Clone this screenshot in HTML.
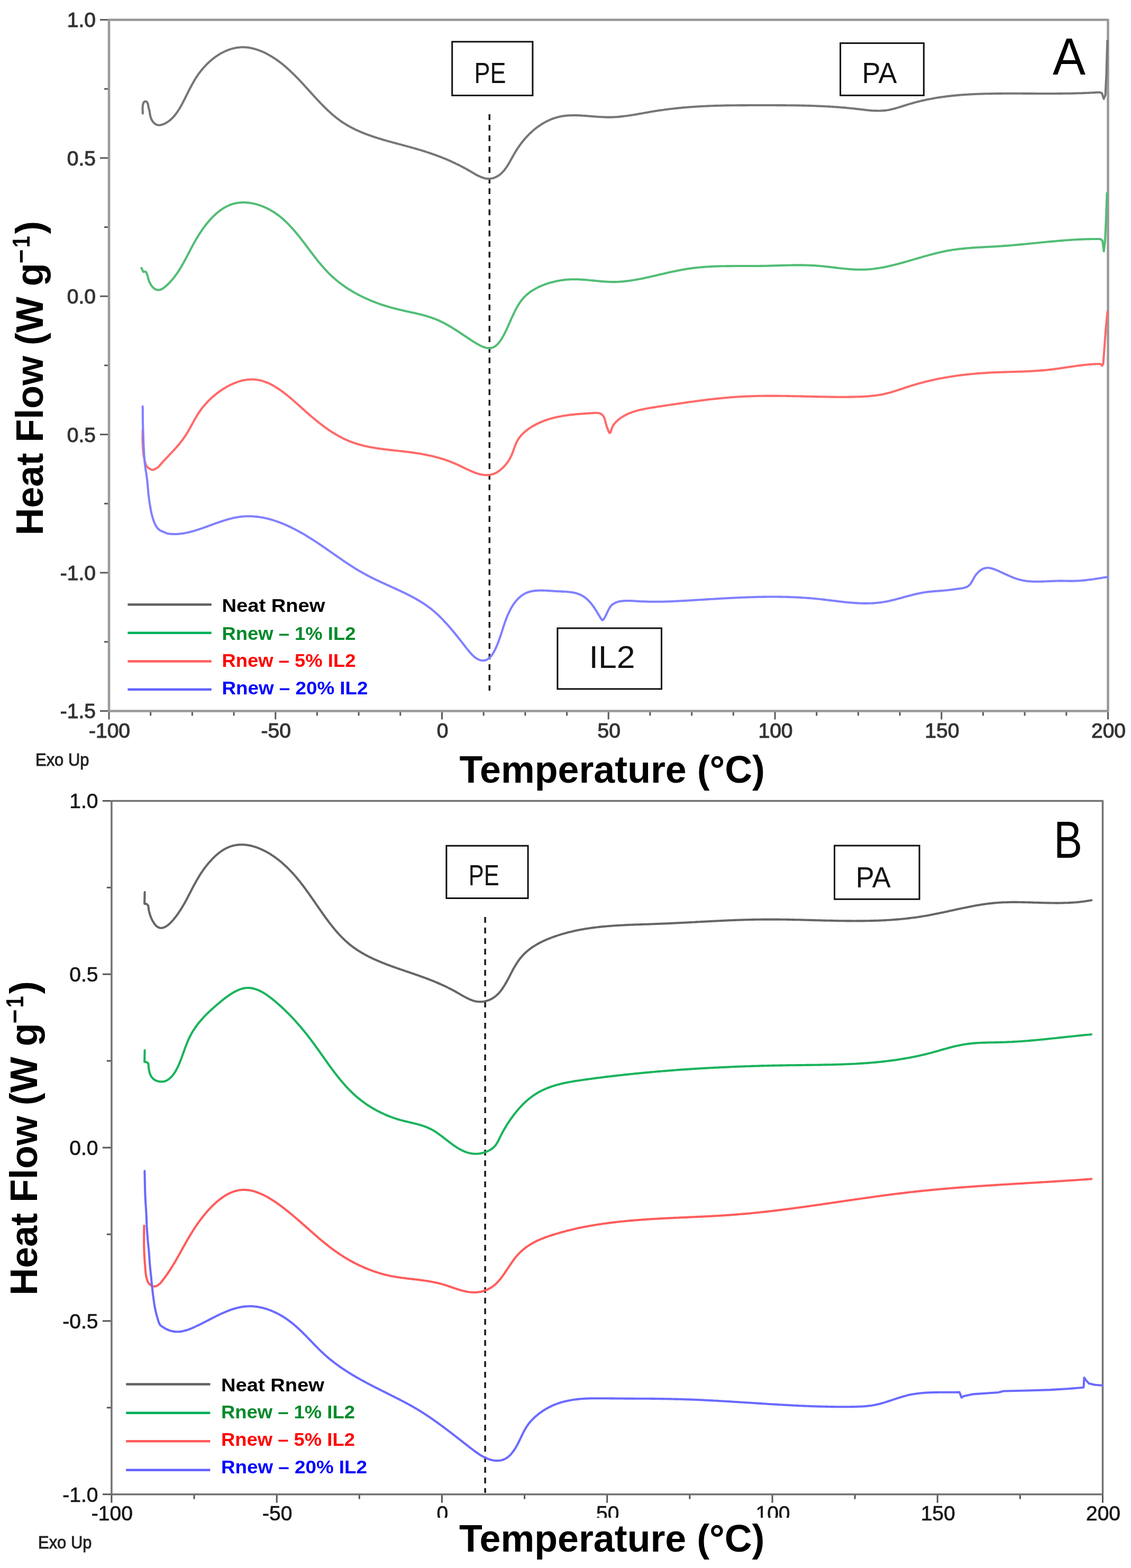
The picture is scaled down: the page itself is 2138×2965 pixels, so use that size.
<!DOCTYPE html>
<html><head><meta charset="utf-8"><title>DSC Heat Flow</title><style>html,body{margin:0;padding:0;background:#fff;}body{width:2138px;height:2965px;overflow:hidden;}</style></head><body>
<svg width="2138" height="2965" viewBox="0 0 2138 2965" style="display:block">
<rect x="0" y="0" width="2138" height="2965" fill="#ffffff"/>
<line x1="189.0" y1="37.4" x2="206.0" y2="37.4" stroke="#5a5a5a" stroke-width="3"/>
<line x1="197.0" y1="168.1" x2="206.0" y2="168.1" stroke="#5a5a5a" stroke-width="3"/>
<line x1="189.0" y1="298.8" x2="206.0" y2="298.8" stroke="#5a5a5a" stroke-width="3"/>
<line x1="197.0" y1="429.5" x2="206.0" y2="429.5" stroke="#5a5a5a" stroke-width="3"/>
<line x1="189.0" y1="560.2" x2="206.0" y2="560.2" stroke="#5a5a5a" stroke-width="3"/>
<line x1="197.0" y1="690.9" x2="206.0" y2="690.9" stroke="#5a5a5a" stroke-width="3"/>
<line x1="189.0" y1="821.6" x2="206.0" y2="821.6" stroke="#5a5a5a" stroke-width="3"/>
<line x1="197.0" y1="952.3" x2="206.0" y2="952.3" stroke="#5a5a5a" stroke-width="3"/>
<line x1="189.0" y1="1083.0" x2="206.0" y2="1083.0" stroke="#5a5a5a" stroke-width="3"/>
<line x1="197.0" y1="1213.7" x2="206.0" y2="1213.7" stroke="#5a5a5a" stroke-width="3"/>
<line x1="189.0" y1="1344.4" x2="206.0" y2="1344.4" stroke="#5a5a5a" stroke-width="3"/>
<line x1="206.0" y1="1344.4" x2="206.0" y2="1360.4" stroke="#5a5a5a" stroke-width="3"/>
<line x1="284.7" y1="1344.4" x2="284.7" y2="1353.4" stroke="#5a5a5a" stroke-width="3"/>
<line x1="363.4" y1="1344.4" x2="363.4" y2="1353.4" stroke="#5a5a5a" stroke-width="3"/>
<line x1="442.1" y1="1344.4" x2="442.1" y2="1353.4" stroke="#5a5a5a" stroke-width="3"/>
<line x1="520.8" y1="1344.4" x2="520.8" y2="1360.4" stroke="#5a5a5a" stroke-width="3"/>
<line x1="599.4" y1="1344.4" x2="599.4" y2="1353.4" stroke="#5a5a5a" stroke-width="3"/>
<line x1="678.1" y1="1344.4" x2="678.1" y2="1353.4" stroke="#5a5a5a" stroke-width="3"/>
<line x1="756.8" y1="1344.4" x2="756.8" y2="1353.4" stroke="#5a5a5a" stroke-width="3"/>
<line x1="835.5" y1="1344.4" x2="835.5" y2="1360.4" stroke="#5a5a5a" stroke-width="3"/>
<line x1="914.2" y1="1344.4" x2="914.2" y2="1353.4" stroke="#5a5a5a" stroke-width="3"/>
<line x1="992.9" y1="1344.4" x2="992.9" y2="1353.4" stroke="#5a5a5a" stroke-width="3"/>
<line x1="1071.6" y1="1344.4" x2="1071.6" y2="1353.4" stroke="#5a5a5a" stroke-width="3"/>
<line x1="1150.2" y1="1344.4" x2="1150.2" y2="1360.4" stroke="#5a5a5a" stroke-width="3"/>
<line x1="1228.9" y1="1344.4" x2="1228.9" y2="1353.4" stroke="#5a5a5a" stroke-width="3"/>
<line x1="1307.6" y1="1344.4" x2="1307.6" y2="1353.4" stroke="#5a5a5a" stroke-width="3"/>
<line x1="1386.3" y1="1344.4" x2="1386.3" y2="1353.4" stroke="#5a5a5a" stroke-width="3"/>
<line x1="1465.0" y1="1344.4" x2="1465.0" y2="1360.4" stroke="#5a5a5a" stroke-width="3"/>
<line x1="1543.7" y1="1344.4" x2="1543.7" y2="1353.4" stroke="#5a5a5a" stroke-width="3"/>
<line x1="1622.4" y1="1344.4" x2="1622.4" y2="1353.4" stroke="#5a5a5a" stroke-width="3"/>
<line x1="1701.1" y1="1344.4" x2="1701.1" y2="1353.4" stroke="#5a5a5a" stroke-width="3"/>
<line x1="1779.8" y1="1344.4" x2="1779.8" y2="1360.4" stroke="#5a5a5a" stroke-width="3"/>
<line x1="1858.4" y1="1344.4" x2="1858.4" y2="1353.4" stroke="#5a5a5a" stroke-width="3"/>
<line x1="1937.1" y1="1344.4" x2="1937.1" y2="1353.4" stroke="#5a5a5a" stroke-width="3"/>
<line x1="2015.8" y1="1344.4" x2="2015.8" y2="1353.4" stroke="#5a5a5a" stroke-width="3"/>
<line x1="2094.5" y1="1344.4" x2="2094.5" y2="1360.4" stroke="#5a5a5a" stroke-width="3"/>
<path d="M206.0,37.4 L2094.5,37.4 L2094.5,1344.4 L206.0,1344.4 Z" fill="none" stroke="#999999" stroke-width="4.5" stroke-linejoin="round"/>
<text x="181.0" y="51.3" font-family="'Liberation Sans', Arial, Helvetica, sans-serif" font-size="39" fill="#333" stroke="#333" stroke-width="1.1" text-anchor="end">1.0</text>
<text x="181.0" y="312.7" font-family="'Liberation Sans', Arial, Helvetica, sans-serif" font-size="39" fill="#333" stroke="#333" stroke-width="1.1" text-anchor="end">0.5</text>
<text x="181.0" y="574.1" font-family="'Liberation Sans', Arial, Helvetica, sans-serif" font-size="39" fill="#333" stroke="#333" stroke-width="1.1" text-anchor="end">0.0</text>
<text x="181.0" y="835.5" font-family="'Liberation Sans', Arial, Helvetica, sans-serif" font-size="39" fill="#333" stroke="#333" stroke-width="1.1" text-anchor="end">0.5</text>
<text x="181.0" y="1096.9" font-family="'Liberation Sans', Arial, Helvetica, sans-serif" font-size="39" fill="#333" stroke="#333" stroke-width="1.1" text-anchor="end">-1.0</text>
<text x="181.0" y="1358.3" font-family="'Liberation Sans', Arial, Helvetica, sans-serif" font-size="39" fill="#333" stroke="#333" stroke-width="1.1" text-anchor="end">-1.5</text>
<text x="207.0" y="1395.0" font-family="'Liberation Sans', Arial, Helvetica, sans-serif" font-size="39" fill="#333" stroke="#333" stroke-width="1.1" text-anchor="middle">-100</text>
<text x="521.8" y="1395.0" font-family="'Liberation Sans', Arial, Helvetica, sans-serif" font-size="39" fill="#333" stroke="#333" stroke-width="1.1" text-anchor="middle">-50</text>
<text x="836.5" y="1395.0" font-family="'Liberation Sans', Arial, Helvetica, sans-serif" font-size="39" fill="#333" stroke="#333" stroke-width="1.1" text-anchor="middle">0</text>
<text x="1151.2" y="1395.0" font-family="'Liberation Sans', Arial, Helvetica, sans-serif" font-size="39" fill="#333" stroke="#333" stroke-width="1.1" text-anchor="middle">50</text>
<text x="1466.0" y="1395.0" font-family="'Liberation Sans', Arial, Helvetica, sans-serif" font-size="39" fill="#333" stroke="#333" stroke-width="1.1" text-anchor="middle">100</text>
<text x="1780.8" y="1395.0" font-family="'Liberation Sans', Arial, Helvetica, sans-serif" font-size="39" fill="#333" stroke="#333" stroke-width="1.1" text-anchor="middle">150</text>
<text x="2095.5" y="1395.0" font-family="'Liberation Sans', Arial, Helvetica, sans-serif" font-size="39" fill="#333" stroke="#333" stroke-width="1.1" text-anchor="middle">200</text>
<line x1="193.9" y1="1514.4" x2="210.9" y2="1514.4" stroke="#555555" stroke-width="3"/>
<line x1="201.9" y1="1678.3" x2="210.9" y2="1678.3" stroke="#555555" stroke-width="3"/>
<line x1="193.9" y1="1842.2" x2="210.9" y2="1842.2" stroke="#555555" stroke-width="3"/>
<line x1="201.9" y1="2006.1" x2="210.9" y2="2006.1" stroke="#555555" stroke-width="3"/>
<line x1="193.9" y1="2170.1" x2="210.9" y2="2170.1" stroke="#555555" stroke-width="3"/>
<line x1="201.9" y1="2334.0" x2="210.9" y2="2334.0" stroke="#555555" stroke-width="3"/>
<line x1="193.9" y1="2497.9" x2="210.9" y2="2497.9" stroke="#555555" stroke-width="3"/>
<line x1="201.9" y1="2661.8" x2="210.9" y2="2661.8" stroke="#555555" stroke-width="3"/>
<line x1="193.9" y1="2825.7" x2="210.9" y2="2825.7" stroke="#555555" stroke-width="3"/>
<line x1="210.9" y1="2825.7" x2="210.9" y2="2841.7" stroke="#555555" stroke-width="3"/>
<line x1="367.0" y1="2825.7" x2="367.0" y2="2834.7" stroke="#555555" stroke-width="3"/>
<line x1="523.2" y1="2825.7" x2="523.2" y2="2841.7" stroke="#555555" stroke-width="3"/>
<line x1="679.3" y1="2825.7" x2="679.3" y2="2834.7" stroke="#555555" stroke-width="3"/>
<line x1="835.4" y1="2825.7" x2="835.4" y2="2841.7" stroke="#555555" stroke-width="3"/>
<line x1="991.6" y1="2825.7" x2="991.6" y2="2834.7" stroke="#555555" stroke-width="3"/>
<line x1="1147.7" y1="2825.7" x2="1147.7" y2="2841.7" stroke="#555555" stroke-width="3"/>
<line x1="1303.8" y1="2825.7" x2="1303.8" y2="2834.7" stroke="#555555" stroke-width="3"/>
<line x1="1460.0" y1="2825.7" x2="1460.0" y2="2841.7" stroke="#555555" stroke-width="3"/>
<line x1="1616.1" y1="2825.7" x2="1616.1" y2="2834.7" stroke="#555555" stroke-width="3"/>
<line x1="1772.2" y1="2825.7" x2="1772.2" y2="2841.7" stroke="#555555" stroke-width="3"/>
<line x1="1928.4" y1="2825.7" x2="1928.4" y2="2834.7" stroke="#555555" stroke-width="3"/>
<line x1="2084.5" y1="2825.7" x2="2084.5" y2="2841.7" stroke="#555555" stroke-width="3"/>
<path d="M210.9,1514.4 L2084.5,1514.4 L2084.5,2825.7 L210.9,2825.7 Z" fill="none" stroke="#727272" stroke-width="3.5" stroke-linejoin="round"/>
<text x="185.5" y="1528.3" font-family="'Liberation Sans', Arial, Helvetica, sans-serif" font-size="39" fill="#161616" stroke="#161616" stroke-width="0.7" text-anchor="end">1.0</text>
<text x="185.5" y="1856.1" font-family="'Liberation Sans', Arial, Helvetica, sans-serif" font-size="39" fill="#161616" stroke="#161616" stroke-width="0.7" text-anchor="end">0.5</text>
<text x="185.5" y="2184.0" font-family="'Liberation Sans', Arial, Helvetica, sans-serif" font-size="39" fill="#161616" stroke="#161616" stroke-width="0.7" text-anchor="end">0.0</text>
<text x="185.5" y="2511.8" font-family="'Liberation Sans', Arial, Helvetica, sans-serif" font-size="39" fill="#161616" stroke="#161616" stroke-width="0.7" text-anchor="end">-0.5</text>
<text x="185.5" y="2839.6" font-family="'Liberation Sans', Arial, Helvetica, sans-serif" font-size="39" fill="#161616" stroke="#161616" stroke-width="0.7" text-anchor="end">-1.0</text>
<text x="211.9" y="2875.0" font-family="'Liberation Sans', Arial, Helvetica, sans-serif" font-size="39" fill="#161616" stroke="#161616" stroke-width="0.7" text-anchor="middle">-100</text>
<text x="524.2" y="2875.0" font-family="'Liberation Sans', Arial, Helvetica, sans-serif" font-size="39" fill="#161616" stroke="#161616" stroke-width="0.7" text-anchor="middle">-50</text>
<text x="836.4" y="2875.0" font-family="'Liberation Sans', Arial, Helvetica, sans-serif" font-size="39" fill="#161616" stroke="#161616" stroke-width="0.7" text-anchor="middle">0</text>
<text x="1148.7" y="2875.0" font-family="'Liberation Sans', Arial, Helvetica, sans-serif" font-size="39" fill="#161616" stroke="#161616" stroke-width="0.7" text-anchor="middle">50</text>
<text x="1461.0" y="2875.0" font-family="'Liberation Sans', Arial, Helvetica, sans-serif" font-size="39" fill="#161616" stroke="#161616" stroke-width="0.7" text-anchor="middle">100</text>
<text x="1773.2" y="2875.0" font-family="'Liberation Sans', Arial, Helvetica, sans-serif" font-size="39" fill="#161616" stroke="#161616" stroke-width="0.7" text-anchor="middle">150</text>
<text x="2085.5" y="2875.0" font-family="'Liberation Sans', Arial, Helvetica, sans-serif" font-size="39" fill="#161616" stroke="#161616" stroke-width="0.7" text-anchor="middle">200</text>
<rect x="700" y="2870" width="800" height="95" fill="#ffffff"/>
<text x="67.0" y="1447.5" font-family="'Liberation Sans', Arial, Helvetica, sans-serif" font-size="33" fill="#222" stroke="#222" stroke-width="0.9" textLength="101.5" lengthAdjust="spacingAndGlyphs">Exo Up</text>
<text x="868.5" y="1479.5" font-family="'Liberation Sans', Arial, Helvetica, sans-serif" font-weight="bold" font-size="73" fill="#000" textLength="577.5" lengthAdjust="spacingAndGlyphs">Temperature (°C)</text>
<g transform="translate(81.1,1012.3) rotate(-90)">
<text x="0" y="0" font-family="'Liberation Sans', Arial, Helvetica, sans-serif" font-weight="bold" font-size="73" fill="#000" textLength="515" lengthAdjust="spacingAndGlyphs">Heat Flow (W g</text>
<text x="514" y="-25.5" font-family="'Liberation Sans', Arial, Helvetica, sans-serif" font-weight="bold" font-size="47" fill="#000" textLength="27" lengthAdjust="spacingAndGlyphs">−</text>
<text x="544" y="-25.5" font-family="'Liberation Sans', Arial, Helvetica, sans-serif" font-weight="bold" font-size="47" fill="#000" textLength="22" lengthAdjust="spacingAndGlyphs">1</text>
<text x="570" y="0" font-family="'Liberation Sans', Arial, Helvetica, sans-serif" font-weight="bold" font-size="73" fill="#000">)</text>
</g>
<text x="72.0" y="2927.5" font-family="'Liberation Sans', Arial, Helvetica, sans-serif" font-size="33" fill="#222" stroke="#222" stroke-width="0.9" textLength="101.5" lengthAdjust="spacingAndGlyphs">Exo Up</text>
<text x="868.0" y="2933.6" font-family="'Liberation Sans', Arial, Helvetica, sans-serif" font-weight="bold" font-size="73" fill="#000" textLength="577.5" lengthAdjust="spacingAndGlyphs">Temperature (°C)</text>
<g transform="translate(69.6,2449.6) rotate(-90)">
<text x="0" y="0" font-family="'Liberation Sans', Arial, Helvetica, sans-serif" font-weight="bold" font-size="73" fill="#000" textLength="515" lengthAdjust="spacingAndGlyphs">Heat Flow (W g</text>
<text x="514" y="-25.5" font-family="'Liberation Sans', Arial, Helvetica, sans-serif" font-weight="bold" font-size="47" fill="#000" textLength="27" lengthAdjust="spacingAndGlyphs">−</text>
<text x="544" y="-25.5" font-family="'Liberation Sans', Arial, Helvetica, sans-serif" font-weight="bold" font-size="47" fill="#000" textLength="22" lengthAdjust="spacingAndGlyphs">1</text>
<text x="570" y="0" font-family="'Liberation Sans', Arial, Helvetica, sans-serif" font-weight="bold" font-size="73" fill="#000">)</text>
</g>
<text x="1990" y="140.7" font-family="'Liberation Sans', Arial, Helvetica, sans-serif" font-size="98" fill="#000" textLength="62" lengthAdjust="spacingAndGlyphs">A</text>
<text x="1992" y="1621.5" font-family="'Liberation Sans', Arial, Helvetica, sans-serif" font-size="98" fill="#000" textLength="54" lengthAdjust="spacingAndGlyphs">B</text>
<line x1="925.3" y1="216.0" x2="925.3" y2="1306.0" stroke="#1a1a1a" stroke-width="3.5" stroke-dasharray="11 9"/>
<line x1="917.1" y1="1734.0" x2="917.1" y2="2823.0" stroke="#1a1a1a" stroke-width="3.5" stroke-dasharray="11 9"/>
<rect x="854.7" y="78.9" width="152.2" height="101.6" fill="#fff" stroke="#111" stroke-width="3"/><text x="896.5" y="156.6" font-family="'Liberation Sans', Arial, Helvetica, sans-serif" font-size="55.0" fill="#111" textLength="60.0" lengthAdjust="spacingAndGlyphs">PE</text>
<rect x="1588.6" y="81.6" width="157.7" height="98.8" fill="#fff" stroke="#111" stroke-width="3"/><text x="1629.5" y="156.6" font-family="'Liberation Sans', Arial, Helvetica, sans-serif" font-size="55.0" fill="#111" textLength="66.0" lengthAdjust="spacingAndGlyphs">PA</text>
<rect x="1053.9" y="1187.9" width="196.6" height="114.9" fill="#fff" stroke="#111" stroke-width="3"/><text x="1113.5" y="1262.6" font-family="'Liberation Sans', Arial, Helvetica, sans-serif" font-size="59.0" fill="#111" textLength="87.0" lengthAdjust="spacingAndGlyphs">IL2</text>
<rect x="843.9" y="1599.3" width="154.2" height="99.2" fill="#fff" stroke="#111" stroke-width="3"/><text x="885.7" y="1674.4" font-family="'Liberation Sans', Arial, Helvetica, sans-serif" font-size="55.0" fill="#111" textLength="58.0" lengthAdjust="spacingAndGlyphs">PE</text>
<rect x="1577.5" y="1599.0" width="160.5" height="101.3" fill="#fff" stroke="#111" stroke-width="3"/><text x="1617.8" y="1677.8" font-family="'Liberation Sans', Arial, Helvetica, sans-serif" font-size="55.0" fill="#111" textLength="66.0" lengthAdjust="spacingAndGlyphs">PA</text>
<path d="M269.9,214.6 L269.8,213.3 L269.8,212.0 L269.7,210.8 L269.7,209.5 L269.6,208.2 L269.6,207.0 L269.6,205.9 L269.6,204.8 L269.6,203.7 L269.7,202.6 L269.7,201.6 L269.8,200.6 L269.9,199.9 L270.0,199.1 L270.1,198.4 L270.3,197.8 L270.4,197.1 L270.6,196.5 L270.8,196.0 L270.9,195.4 L271.1,194.9 L271.3,194.5 L271.5,194.0 L271.8,193.6 L272.0,193.3 L272.3,193.0 L272.6,192.7 L272.9,192.4 L273.2,192.2 L273.5,192.0 L273.8,191.9 L274.1,191.7 L274.4,191.7 L274.8,191.6 L275.1,191.6 L275.4,191.6 L275.7,191.7 L276.0,191.7 L276.3,191.9 L276.6,192.0 L276.9,192.2 L277.2,192.4 L277.5,192.7 L277.8,193.0 L278.0,193.3 L278.3,193.7 L278.5,194.1 L278.7,194.5 L278.9,195.0 L279.1,195.4 L279.3,195.9 L279.5,196.4 L279.6,197.0 L279.8,197.5 L280.0,198.1 L280.1,198.8 L280.2,199.5 L280.3,200.2 L280.4,201.0 L280.6,201.8 L280.9,203.2 L281.3,204.8 L281.7,206.5 L282.1,208.2 L282.6,209.9 L283.0,211.6 L283.0,211.6 L283.3,215.1 L283.9,218.4 L284.7,221.4 L285.7,224.2 L286.9,226.8 L288.3,229.1 L289.8,231.1 L291.4,232.8 L293.2,234.2 L295.0,235.3 L296.9,236.1 L298.9,236.5 L300.9,236.7 L303.0,236.5 L305.1,236.1 L307.1,235.5 L309.2,234.7 L311.2,233.9 L313.1,232.9 L315.0,231.8 L316.8,230.7 L318.6,229.4 L320.3,228.1 L322.0,226.8 L323.6,225.3 L325.2,223.8 L326.7,222.2 L328.3,220.6 L329.7,218.9 L331.2,217.1 L332.6,215.3 L333.9,213.4 L335.3,211.5 L336.6,209.5 L337.9,207.5 L339.2,205.5 L340.4,203.4 L341.6,201.3 L342.9,199.1 L344.1,196.9 L345.2,194.7 L346.4,192.4 L347.6,190.1 L348.8,187.8 L349.9,185.5 L351.1,183.2 L352.3,180.8 L353.5,178.4 L354.6,176.1 L355.8,173.7 L357.0,171.3 L358.2,168.9 L359.5,166.5 L360.7,164.2 L362.0,161.8 L363.3,159.4 L364.6,157.1 L365.9,154.7 L367.3,152.4 L368.6,150.1 L370.1,147.8 L371.5,145.5 L373.0,143.3 L374.5,141.1 L376.1,138.9 L377.7,136.8 L379.3,134.7 L381.0,132.6 L382.7,130.5 L384.4,128.5 L386.2,126.5 L388.0,124.6 L389.8,122.7 L391.6,120.8 L393.5,119.0 L395.4,117.3 L397.3,115.5 L399.3,113.8 L401.3,112.2 L403.3,110.6 L405.3,109.0 L407.3,107.5 L409.4,106.1 L411.5,104.7 L413.6,103.4 L415.7,102.1 L417.9,100.8 L420.0,99.7 L422.2,98.5 L424.4,97.5 L426.6,96.5 L428.9,95.5 L431.1,94.6 L433.3,93.8 L435.6,93.1 L437.9,92.4 L440.1,91.7 L442.4,91.2 L444.7,90.7 L447.0,90.3 L449.4,89.9 L451.7,89.7 L454.0,89.5 L456.3,89.3 L458.7,89.3 L461.0,89.3 L463.3,89.4 L465.7,89.6 L468.0,89.8 L470.3,90.1 L472.7,90.5 L475.0,91.0 L477.3,91.5 L479.7,92.0 L482.0,92.7 L484.3,93.4 L486.6,94.1 L488.9,94.9 L491.2,95.8 L493.5,96.7 L495.8,97.7 L498.1,98.7 L500.3,99.7 L502.6,100.8 L504.8,102.0 L507.0,103.2 L509.2,104.4 L511.4,105.7 L513.6,107.0 L515.8,108.3 L517.9,109.7 L520.0,111.1 L522.1,112.5 L524.2,114.0 L526.3,115.5 L528.3,117.0 L530.4,118.5 L532.4,120.1 L534.4,121.7 L536.3,123.3 L538.3,125.0 L540.2,126.6 L542.1,128.3 L544.0,130.0 L545.9,131.7 L547.8,133.4 L549.7,135.2 L551.5,136.9 L553.4,138.7 L555.2,140.5 L557.0,142.3 L558.8,144.1 L560.6,146.0 L562.4,147.8 L564.2,149.6 L566.0,151.5 L567.7,153.4 L569.5,155.2 L571.2,157.1 L573.0,159.0 L574.7,160.9 L576.4,162.8 L578.2,164.7 L579.9,166.6 L581.6,168.5 L583.4,170.4 L585.1,172.3 L586.8,174.2 L588.5,176.1 L590.2,178.0 L591.9,179.9 L593.7,181.8 L595.4,183.7 L597.1,185.5 L598.8,187.4 L600.6,189.3 L602.3,191.1 L604.0,192.9 L605.8,194.8 L607.5,196.6 L609.3,198.4 L611.1,200.2 L612.8,202.0 L614.6,203.7 L616.4,205.5 L618.2,207.2 L620.0,208.9 L621.8,210.6 L623.6,212.3 L625.5,214.0 L627.3,215.6 L629.2,217.2 L631.1,218.8 L633.0,220.4 L634.9,221.9 L636.8,223.5 L638.8,224.9 L640.7,226.4 L642.7,227.9 L644.7,229.3 L646.7,230.7 L648.7,232.0 L650.8,233.3 L652.8,234.6 L654.9,235.9 L657.0,237.1 L659.1,238.3 L661.2,239.5 L663.4,240.7 L665.5,241.8 L667.7,242.9 L669.9,244.0 L672.1,245.1 L674.3,246.1 L676.6,247.2 L678.8,248.2 L681.1,249.1 L683.4,250.1 L685.6,251.0 L687.9,252.0 L690.2,252.9 L692.6,253.8 L694.9,254.6 L697.2,255.5 L699.6,256.3 L701.9,257.1 L704.3,258.0 L706.7,258.7 L709.0,259.5 L711.4,260.3 L713.8,261.1 L716.2,261.8 L718.6,262.5 L721.0,263.3 L723.4,264.0 L725.9,264.7 L728.3,265.4 L730.7,266.1 L733.2,266.8 L735.6,267.5 L738.1,268.1 L740.5,268.8 L742.9,269.5 L745.4,270.1 L747.8,270.8 L750.3,271.5 L752.8,272.1 L755.2,272.8 L757.7,273.4 L760.1,274.1 L762.6,274.7 L765.0,275.4 L767.5,276.1 L769.9,276.7 L772.4,277.4 L774.8,278.1 L777.2,278.7 L779.7,279.4 L782.1,280.1 L784.5,280.8 L786.9,281.5 L789.4,282.2 L791.8,282.9 L794.2,283.6 L796.6,284.3 L799.0,285.1 L801.4,285.8 L803.7,286.6 L806.1,287.4 L808.5,288.1 L810.9,288.9 L813.2,289.7 L815.6,290.5 L818.0,291.4 L820.3,292.2 L822.7,293.0 L825.0,293.9 L827.3,294.8 L829.7,295.6 L832.0,296.5 L834.3,297.4 L836.7,298.4 L839.0,299.3 L841.3,300.2 L843.6,301.2 L845.9,302.2 L848.2,303.2 L850.5,304.2 L852.8,305.2 L855.1,306.3 L857.4,307.3 L859.7,308.4 L861.9,309.5 L864.2,310.6 L866.5,311.7 L868.8,312.8 L871.0,314.0 L873.3,315.2 L875.6,316.4 L877.8,317.6 L880.1,318.8 L882.3,320.1 L884.6,321.4 L886.8,322.6 L889.1,324.0 L891.3,325.3 L893.5,326.6 L895.8,327.9 L898.0,329.2 L900.2,330.4 L902.5,331.6 L904.7,332.7 L906.9,333.7 L909.1,334.7 L911.4,335.5 L913.6,336.3 L915.8,336.9 L918.0,337.4 L920.2,337.8 L922.4,337.9 L924.6,338.0 L926.8,337.8 L929.0,337.5 L931.2,337.0 L933.4,336.4 L935.5,335.6 L937.6,334.7 L939.6,333.7 L941.6,332.5 L943.5,331.2 L945.4,329.8 L947.2,328.2 L948.9,326.6 L950.6,324.9 L952.2,323.1 L953.7,321.2 L955.2,319.2 L956.7,317.2 L958.1,315.1 L959.5,313.0 L960.9,310.8 L962.2,308.5 L963.5,306.3 L964.8,304.0 L966.1,301.7 L967.4,299.3 L968.7,297.0 L970.0,294.7 L971.3,292.3 L972.7,290.0 L974.0,287.7 L975.4,285.4 L976.8,283.1 L978.3,280.9 L979.8,278.7 L981.3,276.5 L982.8,274.4 L984.4,272.3 L985.9,270.2 L987.5,268.1 L989.2,266.1 L990.8,264.1 L992.5,262.1 L994.2,260.2 L996.0,258.3 L997.7,256.4 L999.5,254.6 L1001.3,252.8 L1003.1,251.1 L1005.0,249.4 L1006.8,247.7 L1008.7,246.0 L1010.6,244.4 L1012.6,242.9 L1014.5,241.4 L1016.5,239.9 L1018.5,238.5 L1020.5,237.1 L1022.6,235.7 L1024.6,234.4 L1026.7,233.2 L1028.8,232.0 L1030.9,230.8 L1033.0,229.7 L1035.1,228.6 L1037.3,227.6 L1039.5,226.6 L1041.7,225.7 L1043.9,224.8 L1046.1,224.0 L1048.3,223.3 L1050.6,222.6 L1052.8,221.9 L1055.1,221.3 L1057.4,220.7 L1059.7,220.3 L1062.0,219.8 L1064.3,219.4 L1066.7,219.1 L1069.0,218.8 L1071.4,218.6 L1073.8,218.4 L1076.2,218.3 L1078.6,218.2 L1081.0,218.1 L1083.4,218.0 L1085.8,218.0 L1088.3,218.1 L1090.7,218.1 L1093.1,218.2 L1095.6,218.3 L1098.1,218.4 L1100.5,218.6 L1103.0,218.7 L1105.5,218.9 L1108.0,219.1 L1110.5,219.3 L1113.0,219.5 L1115.5,219.7 L1118.0,219.9 L1120.5,220.1 L1123.1,220.3 L1125.6,220.5 L1128.1,220.7 L1130.6,220.9 L1133.2,221.0 L1135.7,221.2 L1138.3,221.3 L1140.8,221.4 L1143.3,221.5 L1145.9,221.6 L1148.4,221.6 L1150.9,221.6 L1153.5,221.6 L1156.0,221.6 L1158.6,221.5 L1161.1,221.4 L1163.6,221.2 L1166.2,221.1 L1168.7,220.9 L1171.2,220.6 L1173.8,220.4 L1176.3,220.1 L1178.9,219.8 L1181.4,219.5 L1183.9,219.2 L1186.4,218.8 L1189.0,218.5 L1191.5,218.1 L1194.0,217.7 L1196.6,217.3 L1199.1,216.9 L1201.6,216.4 L1204.1,216.0 L1206.7,215.6 L1209.2,215.1 L1211.7,214.7 L1214.2,214.2 L1216.8,213.8 L1219.3,213.3 L1221.8,212.9 L1224.3,212.4 L1226.9,212.0 L1229.4,211.6 L1231.9,211.1 L1234.4,210.7 L1236.9,210.3 L1239.5,209.9 L1242.0,209.5 L1244.5,209.1 L1247.0,208.7 L1249.5,208.4 L1252.0,208.0 L1254.6,207.7 L1257.1,207.3 L1259.6,207.0 L1262.1,206.7 L1264.6,206.3 L1267.1,206.0 L1269.6,205.7 L1272.2,205.5 L1274.7,205.2 L1277.2,204.9 L1279.7,204.6 L1282.2,204.4 L1284.7,204.1 L1287.2,203.9 L1289.7,203.6 L1292.2,203.4 L1294.7,203.2 L1297.2,203.0 L1299.8,202.8 L1302.3,202.6 L1304.8,202.4 L1307.3,202.2 L1309.8,202.0 L1312.3,201.9 L1314.8,201.7 L1317.3,201.5 L1319.8,201.4 L1322.3,201.2 L1324.8,201.1 L1327.3,201.0 L1329.8,200.8 L1332.3,200.7 L1334.8,200.6 L1337.3,200.5 L1339.8,200.4 L1342.3,200.3 L1344.8,200.2 L1347.3,200.1 L1349.8,200.0 L1352.3,199.9 L1354.8,199.9 L1357.3,199.8 L1359.8,199.7 L1362.3,199.7 L1364.8,199.6 L1367.3,199.5 L1369.8,199.5 L1372.3,199.4 L1374.8,199.4 L1377.3,199.4 L1379.8,199.3 L1382.3,199.3 L1384.8,199.2 L1387.3,199.2 L1389.8,199.2 L1392.2,199.2 L1394.7,199.1 L1397.2,199.1 L1399.7,199.1 L1402.2,199.1 L1404.7,199.1 L1407.2,199.1 L1409.7,199.1 L1412.2,199.1 L1414.7,199.0 L1417.2,199.0 L1419.7,199.0 L1422.2,199.0 L1424.7,199.0 L1427.1,199.0 L1429.6,199.0 L1432.1,199.0 L1434.6,199.0 L1437.1,199.0 L1439.6,199.0 L1442.1,199.0 L1444.6,199.0 L1447.1,199.0 L1449.6,199.0 L1452.0,199.0 L1454.5,199.0 L1457.0,199.0 L1459.5,199.0 L1462.0,199.0 L1464.5,199.0 L1467.0,199.0 L1469.5,199.1 L1472.0,199.1 L1474.4,199.1 L1476.9,199.1 L1479.4,199.1 L1481.9,199.1 L1484.4,199.1 L1486.9,199.2 L1489.4,199.2 L1491.9,199.2 L1494.3,199.2 L1496.8,199.2 L1499.3,199.3 L1501.8,199.3 L1504.3,199.3 L1506.8,199.4 L1509.3,199.4 L1511.7,199.5 L1514.2,199.5 L1516.7,199.6 L1519.2,199.6 L1521.7,199.7 L1524.2,199.7 L1526.7,199.8 L1529.1,199.9 L1531.6,199.9 L1534.1,200.0 L1536.6,200.1 L1539.1,200.2 L1541.6,200.3 L1544.1,200.4 L1546.5,200.5 L1549.0,200.6 L1551.5,200.7 L1554.0,200.8 L1556.5,200.9 L1559.0,201.0 L1561.4,201.2 L1563.9,201.3 L1566.4,201.4 L1568.9,201.6 L1571.4,201.7 L1573.9,201.9 L1576.3,202.1 L1578.8,202.2 L1581.3,202.4 L1583.8,202.6 L1586.3,202.8 L1588.8,203.0 L1591.2,203.2 L1593.7,203.4 L1596.2,203.6 L1598.7,203.8 L1601.2,204.1 L1603.6,204.3 L1606.1,204.5 L1608.6,204.8 L1611.1,205.0 L1613.6,205.3 L1616.1,205.6 L1618.5,205.9 L1621.0,206.1 L1623.5,206.4 L1626.0,206.7 L1628.5,207.0 L1630.9,207.3 L1633.4,207.6 L1635.9,207.9 L1638.4,208.2 L1640.9,208.4 L1643.4,208.7 L1645.8,208.9 L1648.3,209.1 L1650.8,209.2 L1653.3,209.4 L1655.8,209.4 L1658.2,209.5 L1660.7,209.5 L1663.2,209.5 L1665.7,209.4 L1668.2,209.3 L1670.6,209.1 L1673.1,208.9 L1675.6,208.5 L1678.1,208.2 L1680.6,207.8 L1683.0,207.3 L1685.5,206.7 L1688.0,206.1 L1690.5,205.5 L1693.0,204.8 L1695.4,204.1 L1697.9,203.4 L1700.4,202.6 L1702.9,201.8 L1705.4,201.0 L1707.8,200.2 L1710.3,199.5 L1712.8,198.7 L1715.3,197.9 L1717.8,197.1 L1720.2,196.4 L1722.7,195.7 L1725.2,195.0 L1727.7,194.3 L1730.2,193.6 L1732.6,192.9 L1735.1,192.3 L1737.6,191.7 L1740.1,191.1 L1742.6,190.5 L1745.0,189.9 L1747.5,189.4 L1750.0,188.8 L1752.5,188.3 L1755.0,187.8 L1757.4,187.3 L1759.9,186.9 L1762.4,186.4 L1764.9,185.9 L1767.4,185.5 L1769.8,185.1 L1772.3,184.7 L1774.8,184.3 L1777.3,183.9 L1779.8,183.6 L1782.2,183.2 L1784.7,182.9 L1787.2,182.5 L1789.7,182.2 L1792.2,181.9 L1794.6,181.6 L1797.1,181.4 L1799.6,181.1 L1802.1,180.8 L1804.6,180.6 L1807.0,180.4 L1809.5,180.1 L1812.0,179.9 L1814.5,179.7 L1817.0,179.5 L1819.4,179.3 L1821.9,179.1 L1824.4,179.0 L1826.9,178.8 L1829.4,178.7 L1831.9,178.5 L1834.3,178.4 L1836.8,178.3 L1839.3,178.1 L1841.8,178.0 L1844.3,177.9 L1846.7,177.8 L1849.2,177.7 L1851.7,177.6 L1854.2,177.5 L1856.7,177.5 L1859.1,177.4 L1861.6,177.3 L1864.1,177.3 L1866.6,177.2 L1869.1,177.2 L1871.6,177.1 L1874.0,177.1 L1876.5,177.0 L1879.0,177.0 L1881.5,177.0 L1884.0,176.9 L1886.4,176.9 L1888.9,176.9 L1891.4,176.9 L1893.9,176.9 L1896.4,176.8 L1898.9,176.8 L1901.3,176.8 L1903.8,176.8 L1906.3,176.8 L1908.8,176.8 L1911.3,176.8 L1913.8,176.8 L1916.2,176.8 L1918.7,176.8 L1921.2,176.8 L1923.7,176.8 L1926.2,176.8 L1928.7,176.8 L1931.1,176.8 L1933.6,176.9 L1936.1,176.9 L1938.6,176.9 L1941.1,176.9 L1943.6,176.9 L1946.0,176.9 L1948.5,176.9 L1951.0,176.9 L1953.5,176.9 L1956.0,177.0 L1958.5,177.0 L1960.9,177.0 L1963.4,177.0 L1965.9,177.0 L1968.4,177.0 L1970.9,177.0 L1973.4,177.0 L1975.9,177.0 L1978.3,177.0 L1980.8,177.0 L1983.3,177.0 L1985.8,177.0 L1988.3,177.0 L1990.8,177.0 L1993.3,177.0 L1995.7,177.0 L1998.2,177.0 L2000.7,176.9 L2003.2,176.9 L2005.7,176.9 L2008.2,176.9 L2010.7,176.8 L2013.2,176.8 L2015.6,176.8 L2018.1,176.7 L2020.6,176.7 L2023.1,176.7 L2025.6,176.6 L2028.1,176.6 L2030.6,176.5 L2033.1,176.4 L2035.6,176.4 L2038.0,176.3 L2040.5,176.2 L2043.0,176.2 L2045.5,176.1 L2048.0,176.0 L2050.5,175.9 L2053.0,175.8 L2055.5,175.7 L2058.0,175.6 L2060.5,175.5 L2062.9,175.3 L2065.4,175.2 L2067.9,175.1 L2070.4,174.9 L2072.9,174.8 L2075.4,174.7 L2077.9,174.5 L2077.9,174.5 L2083.0,176.0 L2086.5,187.0 L2089.5,180.0 L2091.5,140.0 L2093.3,77.0" fill="none" stroke="#767676" stroke-width="4.1" stroke-linejoin="round" stroke-linecap="round"/>
<path d="M267.3,506.8 L271.0,514.1 L273.5,513.6 L275.5,513.8 L277.1,516.6 L279.0,521.5 L280.8,528.8 L280.8,528.8 L282.0,532.1 L283.4,535.1 L284.9,537.8 L286.4,540.2 L288.1,542.3 L289.8,544.1 L291.5,545.6 L293.4,546.8 L295.3,547.7 L297.2,548.2 L299.1,548.4 L301.1,548.3 L303.1,547.8 L305.1,547.0 L307.1,546.0 L309.0,544.7 L311.0,543.2 L312.9,541.6 L314.8,540.0 L316.6,538.3 L318.4,536.5 L320.1,534.8 L321.8,533.0 L323.5,531.2 L325.1,529.3 L326.7,527.5 L328.2,525.6 L329.7,523.7 L331.1,521.8 L332.6,519.8 L334.0,517.9 L335.3,515.9 L336.7,513.9 L338.0,511.8 L339.3,509.8 L340.6,507.8 L341.8,505.7 L343.1,503.6 L344.3,501.5 L345.5,499.4 L346.7,497.3 L347.9,495.1 L349.0,493.0 L350.2,490.8 L351.3,488.6 L352.5,486.5 L353.7,484.3 L354.8,482.1 L356.0,479.8 L357.1,477.6 L358.3,475.4 L359.4,473.2 L360.6,470.9 L361.8,468.7 L363.0,466.5 L364.2,464.2 L365.4,461.9 L366.7,459.7 L367.9,457.4 L369.2,455.2 L370.5,452.9 L371.9,450.7 L373.2,448.4 L374.6,446.2 L376.0,443.9 L377.4,441.7 L378.9,439.5 L380.3,437.3 L381.8,435.1 L383.3,432.9 L384.9,430.7 L386.5,428.6 L388.0,426.5 L389.7,424.4 L391.3,422.3 L393.0,420.3 L394.7,418.3 L396.4,416.3 L398.1,414.4 L399.9,412.5 L401.7,410.7 L403.5,408.9 L405.3,407.1 L407.2,405.4 L409.0,403.7 L411.0,402.1 L412.9,400.5 L414.8,399.0 L416.8,397.5 L418.8,396.1 L420.9,394.7 L422.9,393.4 L425.0,392.2 L427.1,391.1 L429.3,390.0 L431.4,389.0 L433.6,388.0 L435.8,387.1 L438.1,386.3 L440.3,385.6 L442.6,385.0 L444.9,384.4 L447.2,383.9 L449.6,383.5 L452.0,383.2 L454.4,383.0 L456.8,382.9 L459.3,382.8 L461.7,382.8 L464.2,382.9 L466.7,383.1 L469.2,383.3 L471.6,383.6 L474.1,384.0 L476.6,384.4 L479.1,384.9 L481.6,385.5 L484.0,386.1 L486.5,386.8 L488.9,387.6 L491.3,388.4 L493.7,389.2 L496.1,390.1 L498.5,391.1 L500.8,392.1 L503.1,393.1 L505.3,394.2 L507.6,395.3 L509.8,396.5 L511.9,397.7 L514.1,398.9 L516.2,400.2 L518.2,401.5 L520.3,402.9 L522.3,404.3 L524.3,405.7 L526.2,407.2 L528.2,408.7 L530.1,410.2 L532.0,411.7 L533.9,413.3 L535.7,414.9 L537.5,416.6 L539.3,418.2 L541.1,419.9 L542.9,421.7 L544.6,423.4 L546.3,425.2 L548.0,426.9 L549.7,428.8 L551.4,430.6 L553.1,432.4 L554.7,434.3 L556.4,436.2 L558.0,438.1 L559.6,440.0 L561.2,441.9 L562.8,443.9 L564.4,445.8 L566.0,447.8 L567.5,449.8 L569.1,451.8 L570.6,453.8 L572.2,455.8 L573.7,457.8 L575.3,459.8 L576.8,461.8 L578.3,463.9 L579.9,465.9 L581.4,467.9 L582.9,470.0 L584.5,472.0 L586.0,474.0 L587.5,476.1 L589.1,478.1 L590.6,480.1 L592.2,482.2 L593.7,484.2 L595.3,486.2 L596.9,488.2 L598.4,490.2 L600.0,492.2 L601.6,494.2 L603.2,496.2 L604.9,498.1 L606.5,500.1 L608.1,502.0 L609.8,503.9 L611.5,505.8 L613.1,507.7 L614.8,509.6 L616.6,511.5 L618.3,513.3 L620.0,515.1 L621.8,516.9 L623.6,518.7 L625.4,520.4 L627.2,522.2 L629.1,523.9 L631.0,525.6 L632.9,527.2 L634.8,528.9 L636.7,530.5 L638.7,532.1 L640.6,533.6 L642.6,535.2 L644.6,536.7 L646.7,538.2 L648.7,539.7 L650.8,541.1 L652.8,542.6 L654.9,544.0 L657.0,545.4 L659.1,546.7 L661.3,548.1 L663.4,549.4 L665.6,550.7 L667.8,552.0 L669.9,553.2 L672.1,554.5 L674.4,555.7 L676.6,556.9 L678.8,558.0 L681.0,559.2 L683.3,560.3 L685.6,561.4 L687.8,562.5 L690.1,563.6 L692.4,564.6 L694.7,565.7 L697.0,566.7 L699.3,567.7 L701.6,568.6 L704.0,569.6 L706.3,570.5 L708.6,571.4 L711.0,572.3 L713.3,573.2 L715.7,574.1 L718.0,574.9 L720.4,575.7 L722.8,576.5 L725.1,577.3 L727.5,578.0 L729.9,578.8 L732.2,579.5 L734.6,580.2 L737.0,580.9 L739.3,581.6 L741.7,582.2 L744.1,582.8 L746.4,583.4 L748.8,584.0 L751.2,584.6 L753.5,585.2 L755.9,585.7 L758.3,586.3 L760.6,586.8 L763.0,587.4 L765.4,587.9 L767.7,588.4 L770.1,588.9 L772.4,589.4 L774.8,589.9 L777.1,590.4 L779.5,591.0 L781.8,591.5 L784.2,592.0 L786.5,592.6 L788.8,593.1 L791.2,593.7 L793.5,594.2 L795.9,594.8 L798.2,595.5 L800.5,596.1 L802.9,596.7 L805.2,597.4 L807.5,598.1 L809.8,598.8 L812.2,599.6 L814.5,600.3 L816.8,601.1 L819.1,602.0 L821.4,602.8 L823.8,603.7 L826.1,604.7 L828.4,605.7 L830.7,606.7 L833.0,607.8 L835.3,608.9 L837.6,610.0 L839.9,611.2 L842.2,612.4 L844.5,613.7 L846.8,615.0 L849.1,616.3 L851.4,617.7 L853.7,619.1 L856.0,620.5 L858.2,621.9 L860.5,623.3 L862.8,624.8 L865.1,626.3 L867.4,627.8 L869.6,629.3 L871.9,630.8 L874.2,632.3 L876.5,633.8 L878.7,635.3 L881.0,636.8 L883.3,638.3 L885.5,639.8 L887.8,641.3 L890.0,642.8 L892.3,644.2 L894.5,645.7 L896.8,647.1 L899.0,648.5 L901.3,649.8 L903.5,651.1 L905.7,652.3 L907.9,653.5 L910.1,654.5 L912.2,655.5 L914.4,656.3 L916.5,657.0 L918.6,657.6 L920.7,658.0 L922.7,658.3 L924.7,658.4 L926.6,658.3 L928.5,658.1 L930.4,657.6 L932.2,656.9 L934.0,656.0 L935.8,654.9 L937.5,653.6 L939.1,652.2 L940.7,650.6 L942.3,648.8 L943.9,646.9 L945.4,644.9 L946.8,642.8 L948.3,640.6 L949.7,638.3 L951.0,635.9 L952.4,633.5 L953.7,631.0 L954.9,628.5 L956.2,625.9 L957.4,623.3 L958.6,620.8 L959.7,618.2 L960.9,615.7 L962.0,613.2 L963.1,610.7 L964.2,608.3 L965.2,605.9 L966.3,603.5 L967.3,601.2 L968.4,598.8 L969.4,596.6 L970.5,594.3 L971.5,592.1 L972.6,589.9 L973.6,587.8 L974.7,585.7 L975.8,583.6 L976.9,581.5 L978.1,579.5 L979.3,577.6 L980.5,575.6 L981.7,573.7 L983.0,571.8 L984.3,570.0 L985.6,568.2 L987.0,566.4 L988.5,564.7 L990.0,563.0 L991.5,561.4 L993.1,559.7 L994.8,558.2 L996.6,556.6 L998.4,555.1 L1000.2,553.7 L1002.2,552.2 L1004.2,550.8 L1006.2,549.5 L1008.3,548.2 L1010.5,546.9 L1012.7,545.7 L1014.9,544.5 L1017.2,543.3 L1019.5,542.2 L1021.9,541.2 L1024.3,540.1 L1026.8,539.1 L1029.2,538.2 L1031.7,537.3 L1034.3,536.4 L1036.8,535.6 L1039.4,534.8 L1042.0,534.1 L1044.6,533.4 L1047.2,532.7 L1049.8,532.1 L1052.4,531.6 L1055.1,531.0 L1057.7,530.6 L1060.3,530.1 L1063.0,529.7 L1065.6,529.4 L1068.2,529.1 L1070.8,528.8 L1073.4,528.6 L1076.0,528.5 L1078.6,528.3 L1081.1,528.3 L1083.7,528.2 L1086.2,528.2 L1088.7,528.2 L1091.2,528.3 L1093.7,528.3 L1096.2,528.5 L1098.7,528.6 L1101.2,528.7 L1103.6,528.9 L1106.1,529.1 L1108.6,529.3 L1111.0,529.5 L1113.4,529.7 L1115.9,530.0 L1118.3,530.2 L1120.7,530.4 L1123.1,530.7 L1125.5,530.9 L1128.0,531.2 L1130.4,531.4 L1132.8,531.6 L1135.2,531.9 L1137.6,532.1 L1140.0,532.3 L1142.4,532.4 L1144.8,532.6 L1147.2,532.8 L1149.6,532.9 L1152.0,533.0 L1154.4,533.1 L1156.8,533.1 L1159.2,533.1 L1161.6,533.1 L1164.0,533.1 L1166.4,533.0 L1168.8,532.9 L1171.2,532.7 L1173.7,532.6 L1176.1,532.4 L1178.5,532.2 L1181.0,531.9 L1183.4,531.6 L1185.8,531.4 L1188.3,531.0 L1190.7,530.7 L1193.1,530.3 L1195.6,530.0 L1198.0,529.6 L1200.5,529.2 L1202.9,528.7 L1205.4,528.3 L1207.8,527.8 L1210.3,527.4 L1212.8,526.9 L1215.2,526.4 L1217.7,525.9 L1220.2,525.3 L1222.6,524.8 L1225.1,524.3 L1227.6,523.7 L1230.0,523.2 L1232.5,522.6 L1235.0,522.0 L1237.5,521.5 L1240.0,520.9 L1242.4,520.3 L1244.9,519.7 L1247.4,519.1 L1249.9,518.6 L1252.4,518.0 L1254.9,517.4 L1257.4,516.8 L1259.9,516.2 L1262.4,515.7 L1264.9,515.1 L1267.4,514.6 L1269.9,514.0 L1272.4,513.5 L1274.9,512.9 L1277.4,512.4 L1279.9,511.9 L1282.4,511.4 L1284.9,510.9 L1287.4,510.4 L1289.9,510.0 L1292.4,509.5 L1295.0,509.1 L1297.5,508.7 L1300.0,508.3 L1302.5,507.9 L1305.0,507.6 L1307.5,507.2 L1310.1,506.9 L1312.6,506.6 L1315.1,506.3 L1317.6,506.0 L1320.1,505.8 L1322.7,505.5 L1325.2,505.3 L1327.7,505.1 L1330.2,504.9 L1332.8,504.7 L1335.3,504.5 L1337.8,504.4 L1340.3,504.2 L1342.9,504.1 L1345.4,503.9 L1347.9,503.8 L1350.4,503.7 L1353.0,503.6 L1355.5,503.5 L1358.0,503.5 L1360.6,503.4 L1363.1,503.3 L1365.6,503.3 L1368.1,503.2 L1370.7,503.2 L1373.2,503.1 L1375.7,503.1 L1378.3,503.1 L1380.8,503.1 L1383.3,503.1 L1385.8,503.0 L1388.4,503.0 L1390.9,503.0 L1393.4,503.0 L1396.0,503.0 L1398.5,503.0 L1401.0,503.0 L1403.5,503.0 L1406.1,503.0 L1408.6,503.0 L1411.1,503.0 L1413.6,503.0 L1416.2,503.0 L1418.7,503.0 L1421.2,503.0 L1423.7,503.0 L1426.3,503.0 L1428.8,503.0 L1431.3,503.0 L1433.8,503.0 L1436.3,502.9 L1438.9,502.9 L1441.4,502.9 L1443.9,502.8 L1446.4,502.8 L1448.9,502.7 L1451.4,502.6 L1453.9,502.6 L1456.5,502.5 L1459.0,502.4 L1461.5,502.4 L1464.0,502.3 L1466.5,502.2 L1469.0,502.1 L1471.5,502.1 L1474.0,502.0 L1476.5,501.9 L1479.0,501.9 L1481.5,501.8 L1484.0,501.7 L1486.5,501.7 L1489.0,501.6 L1491.5,501.5 L1494.0,501.5 L1496.5,501.5 L1499.0,501.4 L1501.5,501.4 L1504.0,501.4 L1506.5,501.4 L1509.0,501.4 L1511.5,501.4 L1514.0,501.4 L1516.5,501.4 L1519.0,501.4 L1521.5,501.5 L1524.0,501.5 L1526.5,501.6 L1528.9,501.7 L1531.4,501.8 L1533.9,501.9 L1536.4,502.0 L1538.9,502.1 L1541.4,502.3 L1543.9,502.5 L1546.4,502.6 L1548.8,502.8 L1551.3,503.1 L1553.8,503.3 L1556.3,503.5 L1558.8,503.8 L1561.3,504.1 L1563.7,504.3 L1566.2,504.6 L1568.7,504.9 L1571.2,505.2 L1573.7,505.5 L1576.1,505.8 L1578.6,506.1 L1581.1,506.4 L1583.6,506.7 L1586.0,507.0 L1588.5,507.2 L1591.0,507.5 L1593.5,507.8 L1595.9,508.0 L1598.4,508.3 L1600.9,508.5 L1603.4,508.7 L1605.8,508.9 L1608.3,509.1 L1610.8,509.3 L1613.2,509.4 L1615.7,509.6 L1618.2,509.7 L1620.7,509.8 L1623.1,509.8 L1625.6,509.8 L1628.1,509.8 L1630.5,509.8 L1633.0,509.7 L1635.5,509.7 L1637.9,509.5 L1640.4,509.4 L1642.9,509.2 L1645.3,509.0 L1647.8,508.7 L1650.3,508.5 L1652.7,508.2 L1655.2,507.8 L1657.7,507.5 L1660.1,507.1 L1662.6,506.7 L1665.0,506.3 L1667.5,505.9 L1670.0,505.4 L1672.4,504.9 L1674.9,504.4 L1677.4,503.9 L1679.8,503.3 L1682.3,502.8 L1684.7,502.2 L1687.2,501.6 L1689.7,501.0 L1692.1,500.4 L1694.6,499.8 L1697.0,499.2 L1699.5,498.5 L1702.0,497.8 L1704.4,497.2 L1706.9,496.5 L1709.3,495.8 L1711.8,495.1 L1714.3,494.4 L1716.7,493.7 L1719.2,493.0 L1721.6,492.3 L1724.1,491.6 L1726.5,490.9 L1729.0,490.1 L1731.5,489.4 L1733.9,488.7 L1736.4,488.0 L1738.8,487.3 L1741.3,486.6 L1743.8,485.8 L1746.2,485.1 L1748.7,484.4 L1751.1,483.8 L1753.6,483.1 L1756.0,482.4 L1758.5,481.7 L1761.0,481.1 L1763.4,480.4 L1765.9,479.8 L1768.3,479.2 L1770.8,478.6 L1773.2,478.0 L1775.7,477.4 L1778.1,476.8 L1780.6,476.3 L1783.1,475.8 L1785.5,475.2 L1788.0,474.8 L1790.4,474.3 L1792.9,473.8 L1795.3,473.4 L1797.8,473.0 L1800.3,472.6 L1802.7,472.2 L1805.2,471.9 L1807.6,471.5 L1810.1,471.2 L1812.5,470.9 L1815.0,470.6 L1817.5,470.4 L1819.9,470.1 L1822.4,469.9 L1824.8,469.6 L1827.3,469.4 L1829.8,469.2 L1832.2,469.0 L1834.7,468.8 L1837.1,468.6 L1839.6,468.4 L1842.0,468.3 L1844.5,468.1 L1847.0,468.0 L1849.4,467.8 L1851.9,467.7 L1854.3,467.5 L1856.8,467.4 L1859.3,467.3 L1861.7,467.1 L1864.2,467.0 L1866.7,466.9 L1869.1,466.7 L1871.6,466.6 L1874.0,466.5 L1876.5,466.4 L1879.0,466.2 L1881.4,466.1 L1883.9,465.9 L1886.4,465.8 L1888.8,465.6 L1891.3,465.5 L1893.7,465.3 L1896.2,465.1 L1898.7,464.9 L1901.1,464.7 L1903.6,464.6 L1906.1,464.4 L1908.5,464.2 L1911.0,464.0 L1913.5,463.7 L1915.9,463.5 L1918.4,463.3 L1920.9,463.1 L1923.4,462.9 L1925.8,462.6 L1928.3,462.4 L1930.8,462.2 L1933.2,461.9 L1935.7,461.7 L1938.2,461.5 L1940.6,461.2 L1943.1,461.0 L1945.6,460.7 L1948.1,460.5 L1950.5,460.3 L1953.0,460.0 L1955.5,459.8 L1958.0,459.5 L1960.4,459.3 L1962.9,459.0 L1965.4,458.8 L1967.9,458.5 L1970.3,458.3 L1972.8,458.0 L1975.3,457.8 L1977.8,457.6 L1980.3,457.3 L1982.7,457.1 L1985.2,456.9 L1987.7,456.6 L1990.2,456.4 L1992.7,456.2 L1995.2,456.0 L1997.6,455.7 L2000.1,455.5 L2002.6,455.3 L2005.1,455.1 L2007.6,454.9 L2010.1,454.7 L2012.6,454.5 L2015.0,454.3 L2017.5,454.2 L2020.0,454.0 L2022.5,453.8 L2025.0,453.6 L2027.5,453.5 L2030.0,453.3 L2032.5,453.2 L2035.0,453.0 L2037.5,452.9 L2040.0,452.8 L2042.5,452.7 L2045.0,452.6 L2047.5,452.5 L2050.0,452.4 L2052.5,452.3 L2055.0,452.2 L2057.5,452.2 L2060.0,452.1 L2062.5,452.0 L2065.0,452.0 L2067.5,452.0 L2070.0,452.0 L2072.5,452.0 L2075.0,452.0 L2077.5,452.0 L2080.0,452.0 L2080.0,452.0 L2084.0,455.0 L2086.7,475.2 L2089.0,455.0 L2091.0,410.0 L2092.6,365.0" fill="none" stroke="#52bd76" stroke-width="4.1" stroke-linejoin="round" stroke-linecap="round"/>
<path d="M269.7,812.5 L269.7,816.6 L269.6,820.6 L269.6,824.7 L269.5,828.8 L269.6,832.9 L269.7,837.0 L269.9,841.5 L270.2,846.1 L270.5,850.8 L270.9,855.4 L271.4,859.8 L272.1,863.9 L272.7,867.1 L273.4,870.3 L274.1,873.4 L274.9,876.2 L275.9,878.8 L277.0,881.0 L277.9,882.2 L278.8,883.3 L279.8,884.3 L280.8,885.1 L281.9,885.8 L283.0,886.5 L284.0,887.0 L285.0,887.5 L286.0,887.9 L287.1,888.2 L288.2,888.4 L289.3,888.4 L290.8,888.1 L292.4,887.4 L294.0,886.5 L295.7,885.4 L297.4,884.4 L299.0,883.5 L299.0,883.5 L300.4,881.8 L301.9,880.1 L303.4,878.4 L304.9,876.6 L306.5,874.8 L308.1,873.1 L309.8,871.2 L311.5,869.4 L313.2,867.6 L315.0,865.7 L316.8,863.8 L318.6,862.0 L320.4,860.0 L322.2,858.1 L324.0,856.2 L325.8,854.3 L327.6,852.3 L329.4,850.3 L331.2,848.3 L333.0,846.4 L334.7,844.4 L336.5,842.3 L338.2,840.3 L339.9,838.3 L341.5,836.3 L343.1,834.2 L344.7,832.2 L346.2,830.1 L347.7,828.0 L349.1,826.0 L350.5,823.9 L351.8,821.8 L353.1,819.8 L354.4,817.7 L355.6,815.6 L356.8,813.5 L358.0,811.4 L359.2,809.3 L360.3,807.2 L361.5,805.1 L362.6,803.1 L363.8,801.0 L364.9,798.9 L366.1,796.8 L367.2,794.7 L368.4,792.7 L369.6,790.6 L370.8,788.5 L372.0,786.5 L373.3,784.4 L374.6,782.4 L375.9,780.3 L377.3,778.3 L378.7,776.3 L380.1,774.3 L381.6,772.3 L383.2,770.3 L384.8,768.3 L386.5,766.3 L388.2,764.4 L389.9,762.5 L391.7,760.6 L393.5,758.7 L395.3,756.8 L397.2,755.0 L399.2,753.1 L401.1,751.3 L403.1,749.6 L405.2,747.9 L407.2,746.2 L409.3,744.5 L411.4,742.9 L413.5,741.3 L415.7,739.7 L417.9,738.2 L420.1,736.7 L422.3,735.3 L424.6,733.9 L426.8,732.5 L429.1,731.2 L431.4,730.0 L433.7,728.8 L436.0,727.6 L438.4,726.5 L440.7,725.5 L443.1,724.5 L445.4,723.6 L447.8,722.7 L450.1,721.9 L452.5,721.1 L454.9,720.4 L457.2,719.8 L459.6,719.3 L462.0,718.8 L464.3,718.4 L466.7,718.0 L469.0,717.8 L471.3,717.6 L473.7,717.5 L476.0,717.4 L478.3,717.5 L480.5,717.6 L482.8,717.8 L485.1,718.0 L487.3,718.4 L489.5,718.8 L491.8,719.3 L494.0,719.8 L496.2,720.4 L498.4,721.1 L500.5,721.9 L502.7,722.7 L504.9,723.5 L507.0,724.4 L509.1,725.4 L511.3,726.4 L513.4,727.5 L515.5,728.6 L517.6,729.8 L519.7,731.0 L521.8,732.3 L523.8,733.6 L525.9,734.9 L528.0,736.3 L530.0,737.7 L532.1,739.2 L534.1,740.7 L536.1,742.2 L538.2,743.8 L540.2,745.3 L542.2,746.9 L544.2,748.6 L546.2,750.2 L548.2,751.9 L550.2,753.6 L552.2,755.3 L554.2,757.0 L556.2,758.7 L558.2,760.5 L560.2,762.2 L562.2,764.0 L564.1,765.8 L566.1,767.5 L568.1,769.3 L570.1,771.1 L572.0,772.9 L574.0,774.6 L576.0,776.4 L578.0,778.2 L579.9,779.9 L581.9,781.7 L583.9,783.4 L585.9,785.1 L587.8,786.8 L589.8,788.5 L591.8,790.2 L593.8,791.8 L595.7,793.5 L597.7,795.1 L599.7,796.7 L601.7,798.3 L603.7,799.9 L605.7,801.4 L607.7,803.0 L609.7,804.5 L611.7,806.0 L613.7,807.5 L615.7,808.9 L617.8,810.4 L619.8,811.8 L621.8,813.2 L623.9,814.5 L625.9,815.9 L628.0,817.2 L630.1,818.5 L632.1,819.8 L634.2,821.0 L636.3,822.3 L638.4,823.5 L640.5,824.6 L642.6,825.8 L644.7,826.9 L646.8,828.0 L649.0,829.1 L651.1,830.1 L653.3,831.1 L655.5,832.1 L657.6,833.1 L659.8,834.0 L662.0,834.9 L664.2,835.7 L666.5,836.5 L668.7,837.3 L670.9,838.1 L673.2,838.8 L675.5,839.5 L677.8,840.2 L680.0,840.9 L682.3,841.5 L684.7,842.1 L687.0,842.7 L689.3,843.2 L691.6,843.8 L694.0,844.3 L696.4,844.8 L698.7,845.2 L701.1,845.7 L703.5,846.1 L705.9,846.5 L708.3,846.9 L710.7,847.3 L713.1,847.7 L715.5,848.1 L717.9,848.4 L720.3,848.7 L722.8,849.1 L725.2,849.4 L727.7,849.7 L730.1,850.0 L732.6,850.3 L735.0,850.6 L737.5,850.9 L740.0,851.1 L742.5,851.4 L744.9,851.7 L747.4,852.0 L749.9,852.2 L752.4,852.5 L754.9,852.8 L757.4,853.0 L759.9,853.3 L762.4,853.6 L764.9,853.9 L767.4,854.2 L769.9,854.5 L772.4,854.8 L774.9,855.1 L777.4,855.4 L779.9,855.8 L782.4,856.1 L784.9,856.5 L787.4,856.9 L789.9,857.3 L792.4,857.7 L794.9,858.1 L797.4,858.5 L799.9,859.0 L802.4,859.4 L804.9,859.9 L807.4,860.4 L809.9,860.9 L812.4,861.5 L814.9,862.0 L817.4,862.6 L819.8,863.2 L822.3,863.8 L824.8,864.5 L827.2,865.1 L829.7,865.8 L832.1,866.5 L834.6,867.3 L837.0,868.0 L839.5,868.8 L841.9,869.6 L844.3,870.5 L846.8,871.3 L849.2,872.2 L851.6,873.1 L854.0,874.1 L856.4,875.0 L858.8,876.0 L861.1,877.1 L863.5,878.1 L865.9,879.2 L868.2,880.3 L870.6,881.4 L872.9,882.6 L875.2,883.7 L877.6,884.8 L879.9,885.9 L882.2,887.0 L884.5,888.1 L886.8,889.2 L889.1,890.2 L891.3,891.2 L893.6,892.1 L895.9,893.0 L898.1,893.9 L900.4,894.7 L902.6,895.4 L904.8,896.1 L907.0,896.7 L909.3,897.2 L911.5,897.6 L913.7,898.0 L915.9,898.2 L918.0,898.3 L920.2,898.4 L922.4,898.3 L924.6,898.1 L926.7,897.8 L928.9,897.3 L931.0,896.7 L933.1,896.0 L935.3,895.2 L937.4,894.2 L939.5,893.0 L941.6,891.7 L943.7,890.3 L945.7,888.7 L947.7,887.1 L949.7,885.3 L951.6,883.4 L953.5,881.4 L955.3,879.4 L957.0,877.3 L958.7,875.1 L960.3,872.8 L961.8,870.5 L963.2,868.1 L964.6,865.7 L965.8,863.3 L966.9,860.8 L968.0,858.3 L969.0,855.8 L969.9,853.4 L970.8,850.9 L971.7,848.4 L972.6,845.9 L973.4,843.5 L974.4,841.1 L975.4,838.8 L976.4,836.5 L977.5,834.3 L978.8,832.1 L980.1,830.0 L981.5,827.9 L983.0,826.0 L984.6,824.0 L986.3,822.2 L988.0,820.4 L989.8,818.6 L991.7,816.9 L993.6,815.3 L995.6,813.7 L997.6,812.2 L999.6,810.7 L1001.7,809.3 L1003.8,807.9 L1006.0,806.6 L1008.1,805.4 L1010.3,804.1 L1012.5,802.9 L1014.7,801.8 L1016.9,800.7 L1019.2,799.7 L1021.4,798.7 L1023.7,797.7 L1025.9,796.8 L1028.2,795.9 L1030.5,795.0 L1032.8,794.2 L1035.1,793.4 L1037.4,792.7 L1039.7,792.0 L1042.0,791.3 L1044.4,790.7 L1046.7,790.1 L1049.1,789.5 L1051.5,788.9 L1053.9,788.4 L1056.3,787.9 L1058.7,787.4 L1061.1,787.0 L1063.6,786.5 L1066.0,786.1 L1068.5,785.8 L1070.9,785.4 L1073.4,785.0 L1075.9,784.7 L1078.4,784.4 L1080.9,784.1 L1083.5,783.9 L1086.0,783.6 L1088.5,783.3 L1091.1,783.1 L1093.7,782.9 L1096.2,782.7 L1098.8,782.5 L1101.4,782.3 L1104.0,782.1 L1106.7,781.9 L1109.3,781.7 L1111.9,781.6 L1114.6,781.4 L1117.3,781.2 L1120.0,781.1 L1122.6,780.9 L1125.3,780.8 L1127.9,780.8 L1130.5,781.0 L1132.9,781.4 L1135.1,782.2 L1137.1,783.4 L1138.9,784.9 L1140.4,786.7 L1141.6,788.7 L1142.6,790.9 L1143.4,793.3 L1144.1,795.7 L1144.7,798.2 L1145.3,800.7 L1146.0,803.2 L1146.7,805.6 L1147.5,808.0 L1148.4,810.4 L1149.4,813.0 L1150.4,815.5 L1151.6,817.8 L1152.7,818.9 L1153.7,818.2 L1154.6,815.9 L1155.5,813.2 L1156.4,810.5 L1157.4,808.1 L1158.4,805.8 L1159.7,803.7 L1161.1,801.7 L1162.7,799.8 L1164.4,797.9 L1166.2,796.2 L1168.1,794.5 L1170.0,792.9 L1172.0,791.4 L1174.1,789.9 L1176.1,788.6 L1178.2,787.3 L1180.4,786.0 L1182.5,784.9 L1184.7,783.8 L1186.9,782.7 L1189.2,781.7 L1191.5,780.8 L1193.7,779.9 L1196.1,779.1 L1198.4,778.3 L1200.7,777.6 L1203.1,776.9 L1205.5,776.2 L1207.9,775.6 L1210.3,775.0 L1212.8,774.4 L1215.2,773.9 L1217.7,773.4 L1220.2,772.9 L1222.6,772.4 L1225.1,772.0 L1227.6,771.6 L1230.1,771.2 L1232.6,770.8 L1235.2,770.4 L1237.7,770.0 L1240.2,769.6 L1242.7,769.2 L1245.2,768.8 L1247.8,768.4 L1250.3,768.1 L1252.8,767.7 L1255.3,767.3 L1257.8,766.9 L1260.4,766.5 L1262.9,766.1 L1265.4,765.8 L1267.9,765.4 L1270.4,765.0 L1273.0,764.6 L1275.5,764.3 L1278.0,763.9 L1280.5,763.5 L1283.1,763.1 L1285.6,762.8 L1288.1,762.4 L1290.6,762.0 L1293.1,761.7 L1295.7,761.3 L1298.2,760.9 L1300.7,760.6 L1303.2,760.2 L1305.8,759.9 L1308.3,759.5 L1310.8,759.2 L1313.3,758.8 L1315.8,758.5 L1318.4,758.2 L1320.9,757.8 L1323.4,757.5 L1325.9,757.2 L1328.4,756.9 L1331.0,756.6 L1333.5,756.2 L1336.0,755.9 L1338.5,755.6 L1341.0,755.3 L1343.6,755.0 L1346.1,754.8 L1348.6,754.5 L1351.1,754.2 L1353.6,753.9 L1356.1,753.7 L1358.7,753.4 L1361.2,753.1 L1363.7,752.9 L1366.2,752.7 L1368.7,752.4 L1371.2,752.2 L1373.7,752.0 L1376.3,751.8 L1378.8,751.5 L1381.3,751.3 L1383.8,751.1 L1386.3,751.0 L1388.8,750.8 L1391.3,750.6 L1393.8,750.4 L1396.3,750.3 L1398.8,750.1 L1401.3,750.0 L1403.9,749.8 L1406.4,749.7 L1408.9,749.6 L1411.4,749.5 L1413.9,749.4 L1416.4,749.3 L1418.9,749.2 L1421.4,749.1 L1423.9,749.0 L1426.4,749.0 L1428.9,748.9 L1431.4,748.8 L1433.9,748.8 L1436.4,748.7 L1438.9,748.7 L1441.4,748.7 L1443.9,748.6 L1446.4,748.6 L1448.9,748.6 L1451.3,748.6 L1453.8,748.6 L1456.3,748.6 L1458.8,748.6 L1461.3,748.6 L1463.8,748.6 L1466.3,748.6 L1468.8,748.6 L1471.3,748.6 L1473.8,748.7 L1476.3,748.7 L1478.7,748.7 L1481.2,748.8 L1483.7,748.8 L1486.2,748.8 L1488.7,748.9 L1491.2,748.9 L1493.7,749.0 L1496.2,749.0 L1498.6,749.1 L1501.1,749.1 L1503.6,749.2 L1506.1,749.2 L1508.6,749.3 L1511.0,749.3 L1513.5,749.4 L1516.0,749.4 L1518.5,749.5 L1521.0,749.6 L1523.5,749.6 L1525.9,749.7 L1528.4,749.7 L1530.9,749.8 L1533.4,749.8 L1535.8,749.9 L1538.3,750.0 L1540.8,750.0 L1543.3,750.1 L1545.8,750.1 L1548.2,750.2 L1550.7,750.2 L1553.2,750.3 L1555.7,750.3 L1558.1,750.4 L1560.6,750.4 L1563.1,750.5 L1565.5,750.5 L1568.0,750.5 L1570.5,750.6 L1573.0,750.6 L1575.4,750.6 L1577.9,750.6 L1580.4,750.7 L1582.9,750.7 L1585.3,750.7 L1587.8,750.7 L1590.3,750.7 L1592.7,750.7 L1595.2,750.7 L1597.7,750.7 L1600.1,750.7 L1602.6,750.6 L1605.1,750.6 L1607.5,750.6 L1610.0,750.6 L1612.5,750.5 L1614.9,750.5 L1617.4,750.4 L1619.9,750.3 L1622.3,750.3 L1624.8,750.2 L1627.3,750.1 L1629.7,750.0 L1632.2,749.8 L1634.7,749.7 L1637.1,749.5 L1639.6,749.4 L1642.1,749.2 L1644.5,748.9 L1647.0,748.7 L1649.5,748.4 L1651.9,748.2 L1654.4,747.9 L1656.9,747.5 L1659.3,747.2 L1661.8,746.8 L1664.3,746.4 L1666.7,745.9 L1669.2,745.4 L1671.6,744.9 L1674.1,744.4 L1676.6,743.8 L1679.0,743.2 L1681.5,742.6 L1684.0,741.9 L1686.4,741.2 L1688.9,740.4 L1691.3,739.7 L1693.8,738.9 L1696.3,738.1 L1698.7,737.3 L1701.2,736.5 L1703.7,735.6 L1706.1,734.8 L1708.6,734.0 L1711.0,733.1 L1713.5,732.3 L1716.0,731.5 L1718.4,730.7 L1720.9,729.9 L1723.4,729.1 L1725.8,728.4 L1728.3,727.7 L1730.7,726.9 L1733.2,726.2 L1735.7,725.5 L1738.1,724.8 L1740.6,724.2 L1743.1,723.5 L1745.5,722.9 L1748.0,722.2 L1750.4,721.6 L1752.9,721.0 L1755.4,720.4 L1757.8,719.8 L1760.3,719.3 L1762.7,718.7 L1765.2,718.2 L1767.7,717.6 L1770.1,717.1 L1772.6,716.6 L1775.1,716.1 L1777.5,715.6 L1780.0,715.2 L1782.5,714.7 L1784.9,714.2 L1787.4,713.8 L1789.8,713.4 L1792.3,713.0 L1794.8,712.6 L1797.2,712.2 L1799.7,711.8 L1802.2,711.4 L1804.6,711.0 L1807.1,710.7 L1809.6,710.3 L1812.0,710.0 L1814.5,709.7 L1816.9,709.4 L1819.4,709.1 L1821.9,708.8 L1824.3,708.5 L1826.8,708.2 L1829.3,707.9 L1831.7,707.7 L1834.2,707.4 L1836.7,707.2 L1839.1,707.0 L1841.6,706.7 L1844.1,706.5 L1846.5,706.3 L1849.0,706.1 L1851.5,705.9 L1854.0,705.7 L1856.4,705.5 L1858.9,705.4 L1861.4,705.2 L1863.8,705.1 L1866.3,704.9 L1868.8,704.8 L1871.2,704.6 L1873.7,704.5 L1876.2,704.4 L1878.6,704.3 L1881.1,704.2 L1883.6,704.1 L1886.1,704.0 L1888.5,703.9 L1891.0,703.8 L1893.5,703.7 L1896.0,703.6 L1898.4,703.6 L1900.9,703.5 L1903.4,703.4 L1905.9,703.3 L1908.3,703.3 L1910.8,703.2 L1913.3,703.1 L1915.8,703.1 L1918.2,703.0 L1920.7,702.9 L1923.2,702.8 L1925.7,702.8 L1928.1,702.7 L1930.6,702.6 L1933.1,702.5 L1935.6,702.4 L1938.1,702.3 L1940.5,702.2 L1943.0,702.1 L1945.5,702.0 L1948.0,701.9 L1950.5,701.7 L1953.0,701.6 L1955.4,701.5 L1957.9,701.3 L1960.4,701.1 L1962.9,701.0 L1965.4,700.8 L1967.9,700.6 L1970.3,700.4 L1972.8,700.2 L1975.3,699.9 L1977.8,699.7 L1980.3,699.5 L1982.8,699.2 L1985.3,698.9 L1987.8,698.6 L1990.3,698.3 L1992.7,698.0 L1995.2,697.6 L1997.7,697.3 L2000.2,697.0 L2002.7,696.6 L2005.2,696.2 L2007.7,695.9 L2010.2,695.5 L2012.7,695.1 L2015.2,694.8 L2017.7,694.4 L2020.2,694.0 L2022.7,693.6 L2025.2,693.3 L2027.7,692.9 L2030.2,692.5 L2032.7,692.2 L2035.2,691.8 L2037.7,691.5 L2040.2,691.2 L2042.7,690.9 L2045.2,690.6 L2047.7,690.3 L2050.2,690.0 L2052.7,689.7 L2055.2,689.5 L2057.7,689.3 L2060.2,689.1 L2062.7,688.9 L2065.2,688.7 L2067.7,688.6 L2070.3,688.4 L2072.8,688.3 L2075.3,688.3 L2077.8,688.2 L2080.3,688.2 L2080.3,688.2 L2083.5,691.5 L2085.5,688.0 L2087.7,657.8 L2090.5,620.0 L2093.5,589.4" fill="none" stroke="#ff6a6a" stroke-width="4.1" stroke-linejoin="round" stroke-linecap="round"/>
<path d="M269.7,768.5 L269.8,774.5 L269.8,780.3 L269.9,786.2 L269.9,792.2 L270.0,798.5 L270.2,805.2 L270.5,815.3 L270.9,826.5 L271.3,838.3 L271.9,850.0 L272.5,861.2 L273.3,871.3 L274.0,878.0 L274.8,884.3 L275.7,890.3 L276.6,896.2 L277.4,902.0 L278.2,908.0 L278.8,914.1 L279.4,920.2 L279.9,926.4 L280.4,932.5 L281.1,938.6 L281.9,944.7 L282.8,951.0 L283.9,957.4 L285.0,963.9 L286.2,970.1 L287.7,976.0 L289.3,981.3 L290.6,985.0 L292.0,988.5 L293.4,991.7 L295.1,994.8 L296.9,997.5 L299.0,1000.0 L301.3,1001.9 L303.8,1003.5 L306.6,1004.8 L309.4,1006.0 L312.3,1007.2 L315.0,1008.5 L315.0,1008.5 L317.3,1008.9 L319.7,1009.3 L322.1,1009.6 L324.4,1009.8 L326.8,1009.9 L329.2,1010.0 L331.5,1010.0 L333.9,1009.9 L336.3,1009.8 L338.7,1009.6 L341.1,1009.3 L343.5,1009.0 L345.9,1008.7 L348.4,1008.3 L350.8,1007.8 L353.2,1007.3 L355.6,1006.8 L358.1,1006.2 L360.5,1005.6 L362.9,1005.0 L365.4,1004.3 L367.8,1003.6 L370.3,1002.8 L372.7,1002.1 L375.2,1001.3 L377.7,1000.4 L380.1,999.6 L382.6,998.8 L385.0,997.9 L387.5,997.0 L390.0,996.1 L392.5,995.2 L394.9,994.3 L397.4,993.4 L399.9,992.5 L402.4,991.6 L404.8,990.7 L407.3,989.8 L409.8,988.9 L412.3,988.0 L414.8,987.2 L417.2,986.3 L419.7,985.5 L422.2,984.7 L424.7,983.9 L427.2,983.2 L429.6,982.4 L432.1,981.7 L434.6,981.1 L437.1,980.4 L439.5,979.8 L442.0,979.3 L444.5,978.8 L446.9,978.3 L449.4,977.9 L451.9,977.5 L454.3,977.1 L456.8,976.9 L459.3,976.6 L461.7,976.5 L464.2,976.3 L466.6,976.2 L469.0,976.2 L471.5,976.2 L473.9,976.2 L476.4,976.3 L478.8,976.5 L481.2,976.7 L483.6,976.9 L486.1,977.1 L488.5,977.4 L490.9,977.8 L493.3,978.2 L495.7,978.6 L498.1,979.0 L500.5,979.5 L502.8,980.0 L505.2,980.6 L507.6,981.2 L509.9,981.8 L512.3,982.5 L514.6,983.1 L517.0,983.9 L519.3,984.6 L521.7,985.4 L524.0,986.2 L526.3,987.0 L528.6,987.9 L530.9,988.8 L533.2,989.7 L535.5,990.6 L537.8,991.6 L540.0,992.5 L542.3,993.5 L544.5,994.6 L546.8,995.6 L549.0,996.7 L551.3,997.8 L553.5,998.9 L555.7,1000.0 L557.9,1001.1 L560.1,1002.3 L562.3,1003.5 L564.5,1004.6 L566.7,1005.9 L568.8,1007.1 L571.0,1008.3 L573.2,1009.6 L575.3,1010.8 L577.5,1012.1 L579.6,1013.4 L581.8,1014.7 L583.9,1016.0 L586.0,1017.4 L588.1,1018.7 L590.3,1020.0 L592.4,1021.4 L594.5,1022.8 L596.6,1024.1 L598.7,1025.5 L600.8,1026.9 L602.9,1028.3 L605.0,1029.7 L607.1,1031.1 L609.1,1032.5 L611.2,1034.0 L613.3,1035.4 L615.4,1036.8 L617.4,1038.3 L619.5,1039.7 L621.6,1041.1 L623.6,1042.6 L625.7,1044.0 L627.7,1045.4 L629.8,1046.9 L631.9,1048.3 L633.9,1049.8 L636.0,1051.2 L638.0,1052.6 L640.1,1054.1 L642.2,1055.5 L644.2,1056.9 L646.3,1058.3 L648.4,1059.8 L650.4,1061.2 L652.5,1062.6 L654.6,1064.0 L656.7,1065.4 L658.8,1066.8 L660.9,1068.1 L663.0,1069.5 L665.1,1070.9 L667.2,1072.2 L669.3,1073.5 L671.4,1074.9 L673.6,1076.2 L675.7,1077.5 L677.9,1078.8 L680.0,1080.1 L682.2,1081.3 L684.4,1082.6 L686.6,1083.8 L688.8,1085.0 L691.0,1086.2 L693.2,1087.4 L695.4,1088.6 L697.7,1089.8 L699.9,1090.9 L702.2,1092.1 L704.4,1093.2 L706.7,1094.3 L709.0,1095.4 L711.3,1096.5 L713.6,1097.6 L715.9,1098.7 L718.2,1099.8 L720.5,1100.8 L722.8,1101.9 L725.1,1103.0 L727.4,1104.0 L729.7,1105.1 L732.0,1106.1 L734.3,1107.2 L736.6,1108.2 L738.9,1109.3 L741.2,1110.3 L743.6,1111.4 L745.9,1112.4 L748.2,1113.5 L750.5,1114.5 L752.7,1115.6 L755.0,1116.6 L757.3,1117.7 L759.6,1118.8 L761.9,1119.8 L764.1,1120.9 L766.4,1122.0 L768.6,1123.1 L770.8,1124.3 L773.1,1125.4 L775.3,1126.5 L777.5,1127.7 L779.7,1128.8 L781.9,1130.0 L784.0,1131.2 L786.2,1132.4 L788.3,1133.6 L790.4,1134.9 L792.6,1136.1 L794.7,1137.4 L796.7,1138.7 L798.8,1140.0 L800.8,1141.3 L802.9,1142.7 L804.9,1144.0 L806.9,1145.4 L808.8,1146.8 L810.8,1148.3 L812.7,1149.7 L814.6,1151.2 L816.5,1152.7 L818.4,1154.3 L820.2,1155.8 L822.1,1157.4 L823.9,1159.0 L825.7,1160.7 L827.5,1162.3 L829.3,1164.0 L831.0,1165.7 L832.8,1167.4 L834.5,1169.1 L836.2,1170.9 L837.9,1172.7 L839.6,1174.5 L841.3,1176.3 L843.0,1178.1 L844.7,1179.9 L846.4,1181.8 L848.0,1183.7 L849.7,1185.6 L851.3,1187.5 L853.0,1189.5 L854.6,1191.4 L856.3,1193.4 L857.9,1195.4 L859.6,1197.4 L861.2,1199.4 L862.8,1201.4 L864.5,1203.5 L866.1,1205.6 L867.8,1207.6 L869.4,1209.7 L871.1,1211.8 L872.7,1213.9 L874.4,1216.1 L876.0,1218.2 L877.7,1220.3 L879.4,1222.5 L881.1,1224.7 L882.8,1226.8 L884.5,1229.0 L886.3,1231.1 L888.0,1233.2 L889.8,1235.2 L891.6,1237.2 L893.4,1239.0 L895.3,1240.8 L897.2,1242.4 L899.1,1243.9 L901.1,1245.2 L903.1,1246.3 L905.2,1247.3 L907.3,1248.1 L909.4,1248.7 L911.6,1249.0 L913.7,1249.1 L915.8,1248.9 L917.7,1248.4 L919.6,1247.8 L921.4,1246.8 L923.1,1245.7 L924.8,1244.4 L926.4,1242.9 L927.9,1241.2 L929.3,1239.4 L930.7,1237.5 L932.0,1235.4 L933.3,1233.3 L934.5,1231.1 L935.7,1228.8 L936.8,1226.5 L937.9,1224.1 L938.9,1221.7 L939.9,1219.3 L940.9,1216.9 L941.8,1214.5 L942.7,1212.1 L943.6,1209.7 L944.4,1207.3 L945.3,1204.8 L946.1,1202.4 L946.9,1200.0 L947.7,1197.5 L948.5,1195.1 L949.3,1192.6 L950.1,1190.2 L950.8,1187.8 L951.6,1185.3 L952.4,1182.9 L953.3,1180.5 L954.1,1178.1 L954.9,1175.6 L955.8,1173.2 L956.7,1170.9 L957.6,1168.5 L958.5,1166.1 L959.5,1163.8 L960.5,1161.4 L961.6,1159.1 L962.7,1156.8 L963.8,1154.6 L964.9,1152.3 L966.2,1150.1 L967.4,1147.9 L968.7,1145.8 L970.1,1143.7 L971.4,1141.7 L972.9,1139.7 L974.4,1137.8 L975.9,1135.9 L977.5,1134.1 L979.1,1132.4 L980.8,1130.7 L982.6,1129.1 L984.4,1127.6 L986.2,1126.2 L988.1,1124.9 L990.1,1123.6 L992.1,1122.5 L994.2,1121.5 L996.4,1120.5 L998.6,1119.7 L1000.9,1119.0 L1003.2,1118.4 L1005.6,1117.9 L1008.1,1117.4 L1010.6,1117.1 L1013.1,1116.9 L1015.7,1116.7 L1018.3,1116.6 L1021.0,1116.5 L1023.6,1116.5 L1026.3,1116.6 L1029.0,1116.7 L1031.8,1116.8 L1034.5,1116.9 L1037.2,1117.1 L1040.0,1117.3 L1042.7,1117.4 L1045.4,1117.6 L1048.1,1117.8 L1050.8,1118.0 L1053.5,1118.1 L1056.2,1118.2 L1058.8,1118.3 L1061.4,1118.4 L1064.0,1118.6 L1066.6,1118.7 L1069.1,1118.8 L1071.6,1119.0 L1074.1,1119.2 L1076.5,1119.5 L1078.9,1119.8 L1081.3,1120.1 L1083.6,1120.5 L1086.0,1121.0 L1088.2,1121.5 L1090.5,1122.1 L1092.7,1122.9 L1094.9,1123.7 L1097.0,1124.6 L1099.1,1125.6 L1101.1,1126.7 L1103.2,1128.0 L1105.1,1129.3 L1107.0,1130.8 L1108.9,1132.4 L1110.8,1134.0 L1112.6,1135.8 L1114.3,1137.6 L1116.0,1139.5 L1117.6,1141.4 L1119.2,1143.5 L1120.8,1145.5 L1122.3,1147.6 L1123.7,1149.7 L1125.1,1151.9 L1126.5,1154.1 L1127.9,1156.2 L1129.2,1158.4 L1130.5,1160.6 L1131.8,1162.8 L1133.1,1164.9 L1134.4,1167.0 L1135.7,1169.1 L1137.0,1171.1 L1138.3,1172.5 L1139.7,1172.4 L1141.0,1171.0 L1142.4,1169.0 L1143.7,1166.7 L1145.0,1164.1 L1146.3,1161.5 L1147.5,1158.9 L1148.6,1156.5 L1149.8,1154.1 L1150.9,1151.9 L1152.1,1149.8 L1153.4,1147.8 L1154.7,1146.1 L1156.2,1144.5 L1157.8,1143.0 L1159.6,1141.8 L1161.5,1140.7 L1163.4,1139.7 L1165.5,1138.8 L1167.6,1138.1 L1169.9,1137.5 L1172.2,1137.1 L1174.6,1136.7 L1177.1,1136.4 L1179.6,1136.2 L1182.2,1136.1 L1184.8,1136.0 L1187.5,1136.0 L1190.2,1136.0 L1192.9,1136.1 L1195.7,1136.2 L1198.5,1136.4 L1201.2,1136.6 L1204.0,1136.7 L1206.8,1136.9 L1209.5,1137.1 L1212.2,1137.2 L1215.0,1137.3 L1217.6,1137.4 L1220.3,1137.5 L1223.0,1137.6 L1225.6,1137.7 L1228.3,1137.8 L1230.9,1137.8 L1233.5,1137.8 L1236.1,1137.8 L1238.6,1137.9 L1241.2,1137.8 L1243.7,1137.8 L1246.3,1137.8 L1248.8,1137.8 L1251.3,1137.7 L1253.8,1137.7 L1256.4,1137.6 L1258.8,1137.5 L1261.3,1137.5 L1263.8,1137.4 L1266.3,1137.3 L1268.8,1137.2 L1271.2,1137.1 L1273.7,1137.0 L1276.2,1136.8 L1278.6,1136.7 L1281.1,1136.6 L1283.5,1136.5 L1286.0,1136.3 L1288.5,1136.2 L1290.9,1136.1 L1293.4,1135.9 L1295.8,1135.8 L1298.3,1135.7 L1300.8,1135.5 L1303.2,1135.4 L1305.7,1135.2 L1308.2,1135.1 L1310.6,1134.9 L1313.1,1134.8 L1315.6,1134.6 L1318.0,1134.5 L1320.5,1134.3 L1323.0,1134.2 L1325.5,1134.0 L1327.9,1133.9 L1330.4,1133.7 L1332.9,1133.6 L1335.4,1133.4 L1337.9,1133.3 L1340.3,1133.1 L1342.8,1133.0 L1345.3,1132.8 L1347.8,1132.7 L1350.3,1132.6 L1352.8,1132.4 L1355.3,1132.3 L1357.8,1132.1 L1360.2,1132.0 L1362.7,1131.8 L1365.2,1131.7 L1367.7,1131.5 L1370.2,1131.4 L1372.7,1131.3 L1375.2,1131.1 L1377.7,1131.0 L1380.2,1130.9 L1382.7,1130.8 L1385.2,1130.6 L1387.7,1130.5 L1390.2,1130.4 L1392.7,1130.3 L1395.2,1130.2 L1397.7,1130.0 L1400.2,1129.9 L1402.7,1129.8 L1405.2,1129.7 L1407.7,1129.6 L1410.2,1129.5 L1412.7,1129.4 L1415.2,1129.3 L1417.8,1129.3 L1420.3,1129.2 L1422.8,1129.1 L1425.3,1129.0 L1427.8,1129.0 L1430.3,1128.9 L1432.8,1128.8 L1435.3,1128.8 L1437.8,1128.7 L1440.3,1128.7 L1442.8,1128.6 L1445.4,1128.6 L1447.9,1128.6 L1450.4,1128.5 L1452.9,1128.5 L1455.4,1128.5 L1457.9,1128.5 L1460.4,1128.5 L1462.9,1128.5 L1465.4,1128.5 L1467.9,1128.5 L1470.5,1128.5 L1473.0,1128.6 L1475.5,1128.6 L1478.0,1128.6 L1480.5,1128.7 L1483.0,1128.7 L1485.5,1128.8 L1488.0,1128.9 L1490.5,1128.9 L1493.1,1129.0 L1495.6,1129.1 L1498.1,1129.2 L1500.6,1129.3 L1503.1,1129.4 L1505.6,1129.5 L1508.1,1129.6 L1510.6,1129.8 L1513.1,1129.9 L1515.6,1130.1 L1518.1,1130.2 L1520.6,1130.4 L1523.1,1130.5 L1525.7,1130.7 L1528.2,1130.9 L1530.7,1131.1 L1533.2,1131.3 L1535.7,1131.5 L1538.2,1131.8 L1540.7,1132.0 L1543.2,1132.2 L1545.7,1132.5 L1548.2,1132.8 L1550.7,1133.0 L1553.2,1133.3 L1555.7,1133.6 L1558.2,1133.9 L1560.7,1134.2 L1563.2,1134.5 L1565.7,1134.8 L1568.2,1135.1 L1570.6,1135.4 L1573.1,1135.7 L1575.6,1136.0 L1578.1,1136.3 L1580.6,1136.6 L1583.1,1136.9 L1585.6,1137.2 L1588.1,1137.5 L1590.6,1137.8 L1593.0,1138.1 L1595.5,1138.3 L1598.0,1138.6 L1600.5,1138.8 L1603.0,1139.1 L1605.4,1139.3 L1607.9,1139.5 L1610.4,1139.7 L1612.9,1139.9 L1615.3,1140.1 L1617.8,1140.3 L1620.3,1140.4 L1622.8,1140.5 L1625.2,1140.7 L1627.7,1140.7 L1630.2,1140.8 L1632.6,1140.9 L1635.1,1140.9 L1637.6,1140.9 L1640.0,1140.9 L1642.5,1140.8 L1644.9,1140.8 L1647.4,1140.7 L1649.8,1140.6 L1652.3,1140.4 L1654.7,1140.2 L1657.2,1140.0 L1659.6,1139.8 L1662.1,1139.5 L1664.5,1139.2 L1667.0,1138.9 L1669.4,1138.5 L1671.9,1138.1 L1674.3,1137.7 L1676.7,1137.2 L1679.2,1136.7 L1681.6,1136.2 L1684.0,1135.6 L1686.5,1135.1 L1688.9,1134.5 L1691.3,1133.9 L1693.8,1133.3 L1696.2,1132.6 L1698.6,1132.0 L1701.1,1131.3 L1703.5,1130.7 L1705.9,1130.0 L1708.4,1129.3 L1710.8,1128.6 L1713.2,1128.0 L1715.7,1127.3 L1718.1,1126.7 L1720.6,1126.0 L1723.0,1125.4 L1725.5,1124.8 L1727.9,1124.1 L1730.4,1123.6 L1732.9,1123.0 L1735.3,1122.4 L1737.8,1121.9 L1740.3,1121.4 L1742.7,1121.0 L1745.2,1120.5 L1747.7,1120.1 L1750.2,1119.7 L1752.7,1119.4 L1755.2,1119.1 L1757.7,1118.8 L1760.2,1118.6 L1762.7,1118.4 L1765.2,1118.1 L1767.8,1117.9 L1770.3,1117.8 L1772.8,1117.6 L1775.4,1117.4 L1777.9,1117.2 L1780.5,1117.0 L1783.0,1116.8 L1785.6,1116.5 L1788.2,1116.3 L1790.8,1116.0 L1793.3,1115.7 L1795.9,1115.4 L1798.5,1115.1 L1801.1,1114.7 L1803.7,1114.4 L1806.4,1114.0 L1809.0,1113.6 L1811.6,1113.3 L1814.3,1112.9 L1816.9,1112.6 L1819.4,1112.2 L1821.9,1111.7 L1824.3,1111.1 L1826.5,1110.3 L1828.6,1109.3 L1830.4,1108.1 L1832.1,1106.7 L1833.6,1105.1 L1835.0,1103.4 L1836.2,1101.5 L1837.5,1099.4 L1838.6,1097.3 L1839.8,1095.1 L1841.0,1092.9 L1842.3,1090.7 L1843.7,1088.5 L1845.3,1086.4 L1847.0,1084.3 L1848.8,1082.4 L1850.8,1080.6 L1852.8,1078.9 L1854.9,1077.4 L1857.1,1076.2 L1859.3,1075.2 L1861.6,1074.5 L1863.8,1074.0 L1866.1,1073.8 L1868.4,1073.8 L1870.6,1074.0 L1872.9,1074.4 L1875.2,1075.0 L1877.5,1075.7 L1879.8,1076.5 L1882.1,1077.4 L1884.5,1078.4 L1886.8,1079.4 L1889.1,1080.4 L1891.5,1081.5 L1893.8,1082.6 L1896.2,1083.7 L1898.5,1084.8 L1900.9,1085.9 L1903.3,1087.0 L1905.7,1088.0 L1908.1,1089.1 L1910.5,1090.1 L1912.9,1091.1 L1915.3,1092.1 L1917.7,1093.0 L1920.1,1093.9 L1922.5,1094.7 L1924.9,1095.4 L1927.4,1096.1 L1929.8,1096.7 L1932.3,1097.3 L1934.7,1097.8 L1937.2,1098.2 L1939.6,1098.6 L1942.1,1098.9 L1944.5,1099.1 L1947.0,1099.3 L1949.5,1099.5 L1951.9,1099.6 L1954.4,1099.7 L1956.9,1099.8 L1959.4,1099.8 L1961.9,1099.8 L1964.3,1099.8 L1966.8,1099.7 L1969.3,1099.6 L1971.8,1099.6 L1974.3,1099.5 L1976.8,1099.3 L1979.3,1099.2 L1981.8,1099.1 L1984.3,1099.0 L1986.8,1098.9 L1989.4,1098.8 L1991.9,1098.7 L1994.4,1098.6 L1996.9,1098.5 L1999.4,1098.5 L2001.9,1098.4 L2004.4,1098.4 L2006.9,1098.4 L2009.4,1098.4 L2012.0,1098.5 L2014.5,1098.5 L2017.0,1098.5 L2019.5,1098.6 L2022.0,1098.6 L2024.5,1098.6 L2027.0,1098.6 L2029.5,1098.6 L2032.1,1098.5 L2034.6,1098.4 L2037.1,1098.3 L2039.6,1098.2 L2042.1,1098.0 L2044.6,1097.8 L2047.1,1097.6 L2049.6,1097.4 L2052.1,1097.1 L2054.6,1096.8 L2057.0,1096.5 L2059.5,1096.2 L2062.0,1095.9 L2064.5,1095.5 L2067.0,1095.2 L2069.5,1094.8 L2071.9,1094.4 L2074.4,1094.1 L2076.9,1093.7 L2079.3,1093.3 L2081.8,1092.9 L2084.2,1092.5 L2086.7,1092.1 L2089.1,1091.7 L2091.6,1091.4 L2094.0,1091.0" fill="none" stroke="#8080ff" stroke-width="4.1" stroke-linejoin="round" stroke-linecap="round"/>
<path d="M273.6,1687.1 L273.1,1708.7 L274.5,1709.3 L276.5,1709.1 L278.6,1710.6 L280.4,1713.1 L280.4,1713.1 L280.6,1715.5 L280.8,1718.0 L281.3,1720.6 L281.8,1723.2 L282.5,1725.9 L283.3,1728.6 L284.1,1731.3 L285.1,1734.0 L286.2,1736.6 L287.4,1739.2 L288.6,1741.6 L290.0,1743.9 L291.4,1746.0 L292.8,1748.0 L294.3,1749.7 L295.9,1751.3 L297.5,1752.5 L299.2,1753.5 L300.9,1754.2 L302.6,1754.7 L304.4,1754.8 L306.2,1754.7 L308.0,1754.4 L309.8,1753.8 L311.6,1753.0 L313.4,1752.0 L315.2,1750.9 L317.1,1749.6 L318.9,1748.1 L320.7,1746.5 L322.5,1744.7 L324.3,1742.9 L326.1,1741.0 L327.8,1739.0 L329.5,1736.9 L331.2,1734.8 L332.8,1732.7 L334.4,1730.5 L336.0,1728.4 L337.5,1726.2 L338.9,1724.0 L340.4,1721.9 L341.8,1719.7 L343.1,1717.6 L344.4,1715.4 L345.7,1713.2 L347.0,1711.0 L348.3,1708.9 L349.5,1706.7 L350.7,1704.5 L351.9,1702.4 L353.0,1700.2 L354.2,1698.0 L355.3,1695.8 L356.5,1693.6 L357.6,1691.5 L358.7,1689.3 L359.8,1687.1 L361.0,1684.9 L362.1,1682.7 L363.2,1680.5 L364.4,1678.3 L365.5,1676.1 L366.7,1674.0 L367.9,1671.8 L369.1,1669.6 L370.3,1667.4 L371.5,1665.2 L372.8,1663.0 L374.1,1660.8 L375.4,1658.6 L376.7,1656.4 L378.1,1654.2 L379.5,1652.0 L381.0,1649.8 L382.5,1647.6 L384.0,1645.4 L385.5,1643.3 L387.1,1641.1 L388.8,1638.9 L390.4,1636.8 L392.1,1634.7 L393.8,1632.6 L395.6,1630.6 L397.4,1628.6 L399.2,1626.6 L401.0,1624.6 L402.8,1622.7 L404.7,1620.9 L406.6,1619.1 L408.6,1617.3 L410.5,1615.6 L412.5,1614.0 L414.5,1612.4 L416.5,1610.9 L418.6,1609.4 L420.7,1608.0 L422.7,1606.7 L424.8,1605.5 L427.0,1604.4 L429.1,1603.3 L431.3,1602.3 L433.4,1601.4 L435.6,1600.6 L437.8,1599.9 L440.0,1599.3 L442.2,1598.7 L444.5,1598.3 L446.7,1597.9 L449.0,1597.6 L451.2,1597.4 L453.5,1597.2 L455.8,1597.2 L458.1,1597.2 L460.3,1597.3 L462.6,1597.4 L464.9,1597.7 L467.2,1597.9 L469.5,1598.3 L471.8,1598.7 L474.1,1599.2 L476.4,1599.8 L478.7,1600.4 L481.0,1601.1 L483.3,1601.8 L485.6,1602.6 L487.9,1603.4 L490.1,1604.3 L492.4,1605.3 L494.7,1606.3 L496.9,1607.4 L499.2,1608.5 L501.4,1609.6 L503.6,1610.8 L505.8,1612.0 L508.0,1613.3 L510.2,1614.6 L512.4,1616.0 L514.5,1617.4 L516.6,1618.8 L518.8,1620.3 L520.9,1621.8 L522.9,1623.3 L525.0,1624.9 L527.1,1626.5 L529.1,1628.1 L531.1,1629.8 L533.1,1631.5 L535.0,1633.1 L536.9,1634.9 L538.8,1636.6 L540.7,1638.4 L542.6,1640.1 L544.4,1641.9 L546.2,1643.8 L548.0,1645.6 L549.8,1647.5 L551.6,1649.3 L553.3,1651.2 L555.0,1653.1 L556.7,1655.0 L558.4,1657.0 L560.1,1658.9 L561.7,1660.9 L563.3,1662.9 L565.0,1664.8 L566.6,1666.8 L568.2,1668.8 L569.7,1670.9 L571.3,1672.9 L572.9,1674.9 L574.4,1677.0 L576.0,1679.0 L577.5,1681.1 L579.0,1683.2 L580.5,1685.2 L582.0,1687.3 L583.5,1689.4 L585.0,1691.5 L586.4,1693.6 L587.9,1695.7 L589.4,1697.8 L590.8,1699.9 L592.3,1702.0 L593.8,1704.1 L595.2,1706.2 L596.6,1708.3 L598.1,1710.4 L599.5,1712.5 L601.0,1714.5 L602.4,1716.6 L603.9,1718.7 L605.3,1720.8 L606.8,1722.9 L608.2,1725.0 L609.7,1727.0 L611.1,1729.1 L612.6,1731.1 L614.1,1733.2 L615.5,1735.2 L617.0,1737.2 L618.5,1739.2 L620.0,1741.2 L621.5,1743.2 L623.0,1745.2 L624.5,1747.2 L626.0,1749.1 L627.6,1751.1 L629.1,1753.0 L630.7,1754.9 L632.2,1756.8 L633.8,1758.7 L635.4,1760.6 L637.0,1762.4 L638.7,1764.3 L640.3,1766.1 L642.0,1767.9 L643.6,1769.6 L645.3,1771.4 L647.0,1773.1 L648.7,1774.8 L650.5,1776.5 L652.2,1778.2 L654.0,1779.8 L655.8,1781.4 L657.6,1783.0 L659.5,1784.6 L661.3,1786.1 L663.2,1787.6 L665.1,1789.1 L667.1,1790.6 L669.0,1792.0 L671.0,1793.4 L673.0,1794.8 L675.0,1796.2 L677.1,1797.5 L679.1,1798.8 L681.2,1800.1 L683.3,1801.4 L685.4,1802.6 L687.6,1803.8 L689.7,1805.0 L691.9,1806.2 L694.1,1807.3 L696.3,1808.5 L698.5,1809.6 L700.7,1810.7 L703.0,1811.8 L705.2,1812.8 L707.5,1813.9 L709.8,1814.9 L712.1,1815.9 L714.4,1816.9 L716.7,1817.9 L719.1,1818.9 L721.4,1819.8 L723.7,1820.8 L726.1,1821.7 L728.5,1822.7 L730.8,1823.6 L733.2,1824.5 L735.6,1825.4 L738.0,1826.3 L740.4,1827.1 L742.8,1828.0 L745.2,1828.9 L747.6,1829.7 L750.0,1830.6 L752.4,1831.4 L754.8,1832.2 L757.3,1833.1 L759.7,1833.9 L762.1,1834.7 L764.5,1835.6 L766.9,1836.4 L769.3,1837.2 L771.8,1838.0 L774.2,1838.8 L776.6,1839.7 L779.0,1840.5 L781.4,1841.3 L783.8,1842.1 L786.1,1843.0 L788.5,1843.8 L790.9,1844.6 L793.3,1845.5 L795.6,1846.3 L798.0,1847.2 L800.3,1848.0 L802.7,1848.9 L805.0,1849.7 L807.4,1850.6 L809.7,1851.5 L812.0,1852.4 L814.4,1853.3 L816.7,1854.2 L819.0,1855.2 L821.3,1856.1 L823.6,1857.1 L825.9,1858.0 L828.2,1859.0 L830.5,1860.0 L832.8,1861.0 L835.1,1862.1 L837.4,1863.1 L839.7,1864.2 L842.0,1865.2 L844.3,1866.3 L846.5,1867.5 L848.8,1868.6 L851.1,1869.8 L853.4,1870.9 L855.7,1872.1 L857.9,1873.4 L860.2,1874.6 L862.5,1875.9 L864.8,1877.2 L867.1,1878.5 L869.3,1879.8 L871.6,1881.2 L873.9,1882.5 L876.2,1883.8 L878.5,1885.0 L880.7,1886.2 L883.0,1887.4 L885.3,1888.5 L887.6,1889.6 L889.9,1890.5 L892.2,1891.4 L894.5,1892.2 L896.8,1892.9 L899.1,1893.4 L901.4,1893.8 L903.7,1894.1 L906.0,1894.3 L908.3,1894.4 L910.6,1894.3 L912.8,1894.1 L915.1,1893.7 L917.3,1893.3 L919.5,1892.7 L921.7,1892.1 L923.9,1891.3 L926.0,1890.4 L928.1,1889.4 L930.1,1888.3 L932.1,1887.1 L934.0,1885.8 L935.9,1884.4 L937.7,1883.0 L939.5,1881.4 L941.2,1879.8 L942.8,1878.1 L944.4,1876.3 L946.0,1874.4 L947.5,1872.5 L948.9,1870.5 L950.3,1868.5 L951.7,1866.4 L953.1,1864.2 L954.4,1862.1 L955.7,1859.8 L957.0,1857.6 L958.3,1855.3 L959.5,1853.0 L960.8,1850.7 L962.0,1848.3 L963.2,1846.0 L964.5,1843.6 L965.7,1841.2 L966.9,1838.8 L968.2,1836.5 L969.5,1834.1 L970.7,1831.8 L972.0,1829.5 L973.3,1827.2 L974.7,1824.9 L976.1,1822.6 L977.5,1820.4 L978.9,1818.3 L980.4,1816.2 L981.9,1814.1 L983.5,1812.1 L985.1,1810.1 L986.8,1808.2 L988.5,1806.3 L990.2,1804.5 L992.0,1802.8 L993.8,1801.0 L995.7,1799.4 L997.6,1797.8 L999.5,1796.2 L1001.5,1794.7 L1003.5,1793.2 L1005.5,1791.7 L1007.6,1790.3 L1009.7,1789.0 L1011.8,1787.7 L1013.9,1786.4 L1016.1,1785.1 L1018.3,1783.9 L1020.5,1782.7 L1022.7,1781.6 L1025.0,1780.5 L1027.2,1779.4 L1029.5,1778.4 L1031.8,1777.4 L1034.1,1776.4 L1036.4,1775.4 L1038.7,1774.5 L1041.1,1773.6 L1043.4,1772.7 L1045.8,1771.8 L1048.1,1771.0 L1050.5,1770.2 L1052.8,1769.4 L1055.2,1768.6 L1057.6,1767.9 L1059.9,1767.1 L1062.3,1766.4 L1064.7,1765.7 L1067.0,1765.0 L1069.4,1764.4 L1071.8,1763.7 L1074.2,1763.1 L1076.6,1762.5 L1079.0,1761.9 L1081.3,1761.4 L1083.7,1760.8 L1086.1,1760.3 L1088.5,1759.8 L1090.9,1759.3 L1093.3,1758.8 L1095.7,1758.3 L1098.2,1757.8 L1100.6,1757.4 L1103.0,1757.0 L1105.4,1756.6 L1107.8,1756.2 L1110.2,1755.8 L1112.7,1755.4 L1115.1,1755.1 L1117.5,1754.7 L1119.9,1754.4 L1122.4,1754.1 L1124.8,1753.8 L1127.2,1753.5 L1129.7,1753.2 L1132.1,1752.9 L1134.5,1752.6 L1137.0,1752.4 L1139.4,1752.1 L1141.9,1751.9 L1144.3,1751.7 L1146.8,1751.5 L1149.2,1751.3 L1151.7,1751.1 L1154.2,1750.9 L1156.6,1750.7 L1159.1,1750.5 L1161.5,1750.3 L1164.0,1750.2 L1166.5,1750.0 L1168.9,1749.9 L1171.4,1749.7 L1173.9,1749.6 L1176.4,1749.5 L1178.8,1749.4 L1181.3,1749.2 L1183.8,1749.1 L1186.3,1749.0 L1188.7,1748.9 L1191.2,1748.8 L1193.7,1748.7 L1196.2,1748.6 L1198.7,1748.5 L1201.2,1748.4 L1203.7,1748.3 L1206.2,1748.2 L1208.6,1748.2 L1211.1,1748.1 L1213.6,1748.0 L1216.1,1747.9 L1218.6,1747.8 L1221.1,1747.7 L1223.6,1747.7 L1226.1,1747.6 L1228.6,1747.5 L1231.1,1747.4 L1233.7,1747.3 L1236.2,1747.2 L1238.7,1747.1 L1241.2,1747.0 L1243.7,1746.9 L1246.2,1746.9 L1248.7,1746.8 L1251.2,1746.6 L1253.7,1746.5 L1256.3,1746.4 L1258.8,1746.3 L1261.3,1746.2 L1263.8,1746.1 L1266.3,1746.0 L1268.8,1745.9 L1271.4,1745.7 L1273.9,1745.6 L1276.4,1745.5 L1278.9,1745.4 L1281.4,1745.3 L1284.0,1745.1 L1286.5,1745.0 L1289.0,1744.9 L1291.5,1744.7 L1294.1,1744.6 L1296.6,1744.5 L1299.1,1744.4 L1301.7,1744.2 L1304.2,1744.1 L1306.7,1744.0 L1309.2,1743.8 L1311.8,1743.7 L1314.3,1743.6 L1316.8,1743.4 L1319.4,1743.3 L1321.9,1743.2 L1324.4,1743.0 L1327.0,1742.9 L1329.5,1742.8 L1332.0,1742.6 L1334.6,1742.5 L1337.1,1742.4 L1339.6,1742.2 L1342.2,1742.1 L1344.7,1742.0 L1347.2,1741.8 L1349.8,1741.7 L1352.3,1741.6 L1354.8,1741.5 L1357.4,1741.3 L1359.9,1741.2 L1362.4,1741.1 L1365.0,1741.0 L1367.5,1740.9 L1370.0,1740.8 L1372.6,1740.6 L1375.1,1740.5 L1377.6,1740.4 L1380.2,1740.3 L1382.7,1740.2 L1385.2,1740.1 L1387.8,1740.0 L1390.3,1739.9 L1392.8,1739.8 L1395.4,1739.7 L1397.9,1739.6 L1400.4,1739.5 L1403.0,1739.5 L1405.5,1739.4 L1408.0,1739.3 L1410.6,1739.2 L1413.1,1739.2 L1415.6,1739.1 L1418.1,1739.0 L1420.7,1739.0 L1423.2,1738.9 L1425.7,1738.9 L1428.2,1738.8 L1430.8,1738.8 L1433.3,1738.7 L1435.8,1738.7 L1438.3,1738.7 L1440.9,1738.6 L1443.4,1738.6 L1445.9,1738.6 L1448.4,1738.6 L1451.0,1738.6 L1453.5,1738.6 L1456.0,1738.6 L1458.5,1738.6 L1461.0,1738.6 L1463.5,1738.6 L1466.0,1738.6 L1468.6,1738.6 L1471.1,1738.6 L1473.6,1738.7 L1476.1,1738.7 L1478.6,1738.7 L1481.1,1738.7 L1483.6,1738.8 L1486.1,1738.8 L1488.6,1738.9 L1491.2,1738.9 L1493.7,1739.0 L1496.2,1739.0 L1498.7,1739.1 L1501.2,1739.1 L1503.7,1739.2 L1506.2,1739.2 L1508.7,1739.3 L1511.2,1739.3 L1513.7,1739.4 L1516.2,1739.5 L1518.7,1739.5 L1521.2,1739.6 L1523.7,1739.7 L1526.2,1739.7 L1528.7,1739.8 L1531.2,1739.9 L1533.7,1739.9 L1536.2,1740.0 L1538.7,1740.1 L1541.2,1740.1 L1543.7,1740.2 L1546.2,1740.3 L1548.7,1740.3 L1551.1,1740.4 L1553.6,1740.5 L1556.1,1740.5 L1558.6,1740.6 L1561.1,1740.7 L1563.6,1740.7 L1566.1,1740.8 L1568.6,1740.8 L1571.1,1740.9 L1573.6,1740.9 L1576.0,1741.0 L1578.5,1741.0 L1581.0,1741.1 L1583.5,1741.1 L1586.0,1741.2 L1588.5,1741.2 L1591.0,1741.3 L1593.4,1741.3 L1595.9,1741.3 L1598.4,1741.4 L1600.9,1741.4 L1603.4,1741.4 L1605.9,1741.4 L1608.3,1741.4 L1610.8,1741.4 L1613.3,1741.5 L1615.8,1741.5 L1618.3,1741.5 L1620.8,1741.4 L1623.2,1741.4 L1625.7,1741.4 L1628.2,1741.4 L1630.7,1741.4 L1633.2,1741.4 L1635.6,1741.3 L1638.1,1741.3 L1640.6,1741.2 L1643.1,1741.2 L1645.5,1741.1 L1648.0,1741.1 L1650.5,1741.0 L1653.0,1740.9 L1655.5,1740.9 L1657.9,1740.8 L1660.4,1740.7 L1662.9,1740.6 L1665.4,1740.5 L1667.8,1740.4 L1670.3,1740.2 L1672.8,1740.1 L1675.3,1740.0 L1677.7,1739.8 L1680.2,1739.7 L1682.7,1739.5 L1685.2,1739.4 L1687.6,1739.2 L1690.1,1739.0 L1692.6,1738.8 L1695.0,1738.6 L1697.5,1738.4 L1700.0,1738.2 L1702.5,1738.0 L1704.9,1737.7 L1707.4,1737.5 L1709.9,1737.2 L1712.4,1737.0 L1714.8,1736.7 L1717.3,1736.4 L1719.8,1736.1 L1722.2,1735.8 L1724.7,1735.5 L1727.2,1735.2 L1729.7,1734.9 L1732.1,1734.5 L1734.6,1734.2 L1737.1,1733.8 L1739.5,1733.4 L1742.0,1733.0 L1744.5,1732.6 L1747.0,1732.2 L1749.4,1731.8 L1751.9,1731.4 L1754.4,1730.9 L1756.9,1730.5 L1759.3,1730.0 L1761.8,1729.6 L1764.3,1729.1 L1766.7,1728.6 L1769.2,1728.1 L1771.7,1727.6 L1774.2,1727.1 L1776.6,1726.6 L1779.1,1726.0 L1781.6,1725.5 L1784.0,1725.0 L1786.5,1724.4 L1789.0,1723.9 L1791.5,1723.4 L1793.9,1722.8 L1796.4,1722.3 L1798.9,1721.7 L1801.4,1721.2 L1803.8,1720.7 L1806.3,1720.1 L1808.8,1719.6 L1811.3,1719.0 L1813.7,1718.5 L1816.2,1718.0 L1818.7,1717.4 L1821.2,1716.9 L1823.6,1716.4 L1826.1,1715.9 L1828.6,1715.4 L1831.1,1714.9 L1833.5,1714.4 L1836.0,1713.9 L1838.5,1713.5 L1841.0,1713.0 L1843.4,1712.6 L1845.9,1712.1 L1848.4,1711.7 L1850.9,1711.3 L1853.3,1710.9 L1855.8,1710.5 L1858.3,1710.1 L1860.8,1709.7 L1863.3,1709.4 L1865.7,1709.0 L1868.2,1708.7 L1870.7,1708.4 L1873.2,1708.1 L1875.7,1707.9 L1878.1,1707.6 L1880.6,1707.4 L1883.1,1707.2 L1885.6,1707.0 L1888.1,1706.8 L1890.6,1706.7 L1893.0,1706.5 L1895.5,1706.4 L1898.0,1706.3 L1900.5,1706.2 L1903.0,1706.1 L1905.5,1706.1 L1907.9,1706.0 L1910.4,1706.0 L1912.9,1705.9 L1915.4,1705.9 L1917.9,1705.9 L1920.4,1705.9 L1922.9,1705.9 L1925.4,1706.0 L1927.9,1706.0 L1930.3,1706.0 L1932.8,1706.1 L1935.3,1706.1 L1937.8,1706.2 L1940.3,1706.2 L1942.8,1706.3 L1945.3,1706.4 L1947.8,1706.4 L1950.3,1706.5 L1952.8,1706.6 L1955.3,1706.7 L1957.8,1706.7 L1960.3,1706.8 L1962.8,1706.9 L1965.3,1707.0 L1967.8,1707.0 L1970.3,1707.1 L1972.8,1707.2 L1975.3,1707.3 L1977.8,1707.3 L1980.3,1707.4 L1982.8,1707.4 L1985.3,1707.5 L1987.8,1707.5 L1990.3,1707.5 L1992.8,1707.5 L1995.3,1707.6 L1997.8,1707.6 L2000.3,1707.6 L2002.8,1707.5 L2005.3,1707.5 L2007.8,1707.5 L2010.3,1707.4 L2012.8,1707.3 L2015.3,1707.3 L2017.9,1707.2 L2020.4,1707.1 L2022.9,1706.9 L2025.4,1706.8 L2027.9,1706.6 L2030.4,1706.5 L2032.9,1706.3 L2035.5,1706.1 L2038.0,1705.8 L2040.5,1705.6 L2043.0,1705.3 L2045.5,1705.0 L2048.1,1704.7 L2050.6,1704.3 L2053.1,1704.0 L2055.6,1703.6 L2058.1,1703.2 L2060.7,1702.8 L2063.2,1702.3" fill="none" stroke="#666666" stroke-width="4.1" stroke-linejoin="round" stroke-linecap="round"/>
<path d="M273.6,1986.1 L273.1,2007.7 L274.5,2008.3 L276.5,2008.2 L278.6,2009.4 L280.4,2011.1 L280.4,2011.1 L280.6,2014.3 L280.9,2017.4 L281.2,2020.5 L281.7,2023.3 L282.3,2026.1 L283.0,2028.7 L283.8,2031.1 L284.8,2033.4 L286.0,2035.5 L287.3,2037.4 L288.8,2039.1 L290.5,2040.6 L292.4,2042.0 L294.5,2043.1 L296.6,2044.0 L298.9,2044.6 L301.1,2045.1 L303.4,2045.4 L305.7,2045.4 L307.8,2045.3 L309.9,2044.9 L311.9,2044.4 L313.8,2043.6 L315.7,2042.8 L317.5,2041.7 L319.2,2040.5 L320.8,2039.2 L322.4,2037.8 L323.9,2036.3 L325.3,2034.8 L326.7,2033.1 L328.1,2031.3 L329.4,2029.5 L330.6,2027.6 L331.8,2025.6 L333.0,2023.6 L334.1,2021.5 L335.2,2019.4 L336.3,2017.2 L337.3,2014.9 L338.3,2012.6 L339.3,2010.3 L340.3,2007.9 L341.2,2005.5 L342.2,2003.0 L343.1,2000.6 L344.0,1998.1 L344.9,1995.6 L345.8,1993.1 L346.7,1990.5 L347.6,1988.0 L348.6,1985.4 L349.5,1982.9 L350.4,1980.3 L351.4,1977.8 L352.4,1975.3 L353.4,1972.8 L354.4,1970.3 L355.4,1967.8 L356.5,1965.3 L357.6,1962.9 L358.8,1960.5 L360.0,1958.2 L361.2,1955.9 L362.5,1953.6 L363.8,1951.4 L365.1,1949.2 L366.5,1947.0 L367.9,1944.9 L369.3,1942.8 L370.8,1940.7 L372.3,1938.6 L373.8,1936.6 L375.4,1934.6 L377.0,1932.6 L378.6,1930.7 L380.3,1928.8 L382.0,1926.8 L383.7,1925.0 L385.4,1923.1 L387.2,1921.2 L389.0,1919.4 L390.8,1917.6 L392.6,1915.8 L394.5,1914.0 L396.3,1912.2 L398.2,1910.5 L400.1,1908.7 L402.1,1907.0 L404.0,1905.2 L406.0,1903.5 L408.0,1901.8 L410.0,1900.1 L412.0,1898.3 L414.1,1896.6 L416.1,1894.9 L418.2,1893.2 L420.2,1891.5 L422.3,1889.9 L424.4,1888.2 L426.5,1886.6 L428.6,1885.1 L430.8,1883.5 L432.9,1882.0 L435.0,1880.6 L437.2,1879.2 L439.3,1877.9 L441.5,1876.6 L443.6,1875.4 L445.8,1874.3 L447.9,1873.2 L450.1,1872.3 L452.3,1871.4 L454.4,1870.6 L456.6,1869.9 L458.7,1869.3 L460.9,1868.8 L463.0,1868.4 L465.2,1868.2 L467.3,1868.0 L469.5,1868.0 L471.6,1868.1 L473.7,1868.3 L475.9,1868.6 L478.0,1869.0 L480.1,1869.5 L482.2,1870.1 L484.3,1870.8 L486.4,1871.6 L488.4,1872.4 L490.5,1873.4 L492.6,1874.4 L494.7,1875.4 L496.7,1876.6 L498.8,1877.8 L500.8,1879.1 L502.9,1880.4 L504.9,1881.8 L506.9,1883.2 L508.9,1884.6 L510.9,1886.1 L512.9,1887.7 L514.9,1889.3 L516.9,1890.9 L518.9,1892.5 L520.8,1894.1 L522.8,1895.8 L524.7,1897.5 L526.7,1899.2 L528.6,1900.9 L530.5,1902.6 L532.4,1904.4 L534.3,1906.1 L536.2,1907.9 L538.1,1909.7 L540.0,1911.5 L541.8,1913.4 L543.7,1915.2 L545.5,1917.1 L547.4,1918.9 L549.2,1920.8 L551.0,1922.7 L552.8,1924.6 L554.6,1926.5 L556.4,1928.5 L558.1,1930.4 L559.9,1932.4 L561.6,1934.3 L563.4,1936.3 L565.1,1938.3 L566.8,1940.2 L568.5,1942.2 L570.2,1944.2 L571.9,1946.2 L573.5,1948.2 L575.2,1950.3 L576.8,1952.3 L578.5,1954.3 L580.1,1956.3 L581.7,1958.4 L583.3,1960.4 L584.8,1962.5 L586.4,1964.5 L588.0,1966.6 L589.5,1968.6 L591.0,1970.7 L592.5,1972.7 L594.1,1974.8 L595.6,1976.8 L597.0,1978.9 L598.5,1980.9 L600.0,1983.0 L601.5,1985.0 L602.9,1987.1 L604.4,1989.1 L605.9,1991.2 L607.3,1993.2 L608.7,1995.3 L610.2,1997.3 L611.6,1999.3 L613.1,2001.4 L614.5,2003.4 L615.9,2005.4 L617.4,2007.4 L618.8,2009.5 L620.3,2011.5 L621.7,2013.5 L623.1,2015.5 L624.6,2017.5 L626.0,2019.4 L627.5,2021.4 L629.0,2023.4 L630.4,2025.3 L631.9,2027.3 L633.4,2029.2 L634.9,2031.2 L636.4,2033.1 L637.9,2035.0 L639.4,2036.9 L640.9,2038.8 L642.4,2040.7 L644.0,2042.6 L645.5,2044.4 L647.1,2046.3 L648.7,2048.1 L650.3,2049.9 L651.9,2051.8 L653.5,2053.6 L655.1,2055.3 L656.8,2057.1 L658.4,2058.9 L660.1,2060.6 L661.8,2062.3 L663.5,2064.0 L665.3,2065.7 L667.0,2067.4 L668.8,2069.1 L670.6,2070.7 L672.4,2072.4 L674.3,2074.0 L676.2,2075.6 L678.0,2077.1 L680.0,2078.7 L681.9,2080.2 L683.9,2081.7 L685.8,2083.2 L687.9,2084.7 L689.9,2086.2 L692.0,2087.6 L694.0,2089.0 L696.2,2090.4 L698.3,2091.8 L700.5,2093.2 L702.6,2094.5 L704.8,2095.8 L707.1,2097.1 L709.3,2098.3 L711.6,2099.6 L713.9,2100.8 L716.2,2101.9 L718.5,2103.1 L720.8,2104.2 L723.1,2105.3 L725.5,2106.4 L727.8,2107.5 L730.2,2108.5 L732.6,2109.5 L735.0,2110.5 L737.4,2111.4 L739.8,2112.3 L742.2,2113.2 L744.7,2114.1 L747.1,2114.9 L749.5,2115.7 L752.0,2116.5 L754.4,2117.2 L756.8,2117.9 L759.3,2118.6 L761.7,2119.2 L764.2,2119.8 L766.6,2120.4 L769.0,2121.0 L771.5,2121.6 L773.9,2122.1 L776.3,2122.7 L778.7,2123.3 L781.1,2123.8 L783.5,2124.4 L785.9,2125.0 L788.3,2125.6 L790.7,2126.3 L793.1,2126.9 L795.4,2127.6 L797.7,2128.3 L800.1,2129.1 L802.4,2129.9 L804.7,2130.7 L806.9,2131.6 L809.2,2132.6 L811.4,2133.6 L813.6,2134.6 L815.8,2135.8 L818.0,2137.0 L820.2,2138.2 L822.3,2139.6 L824.4,2140.9 L826.5,2142.3 L828.6,2143.8 L830.7,2145.3 L832.8,2146.8 L834.9,2148.4 L836.9,2150.0 L839.0,2151.6 L841.1,2153.2 L843.1,2154.8 L845.2,2156.4 L847.2,2158.0 L849.3,2159.6 L851.4,2161.2 L853.5,2162.7 L855.5,2164.3 L857.6,2165.8 L859.8,2167.2 L861.9,2168.7 L864.0,2170.1 L866.2,2171.4 L868.4,2172.7 L870.6,2173.9 L872.8,2175.0 L875.0,2176.1 L877.3,2177.1 L879.6,2178.0 L881.9,2178.9 L884.3,2179.6 L886.7,2180.3 L889.1,2180.8 L891.5,2181.2 L893.9,2181.6 L896.4,2181.8 L898.9,2181.8 L901.5,2181.8 L904.0,2181.6 L906.6,2181.3 L909.2,2180.9 L911.8,2180.3 L914.4,2179.6 L916.9,2178.8 L919.4,2177.9 L921.8,2176.9 L924.1,2175.7 L926.4,2174.5 L928.5,2173.2 L930.5,2171.8 L932.3,2170.3 L934.0,2168.8 L935.5,2167.2 L936.9,2165.5 L938.1,2163.7 L939.3,2161.9 L940.4,2160.1 L941.4,2158.2 L942.4,2156.2 L943.4,2154.3 L944.4,2152.2 L945.3,2150.2 L946.4,2148.1 L947.4,2146.1 L948.5,2144.0 L949.6,2141.8 L950.8,2139.7 L952.0,2137.6 L953.2,2135.4 L954.5,2133.3 L955.8,2131.1 L957.1,2128.9 L958.5,2126.7 L959.8,2124.5 L961.2,2122.4 L962.7,2120.2 L964.2,2118.0 L965.7,2115.8 L967.2,2113.7 L968.8,2111.5 L970.3,2109.4 L972.0,2107.3 L973.6,2105.2 L975.3,2103.1 L977.0,2101.0 L978.7,2099.0 L980.4,2097.0 L982.2,2095.0 L984.0,2093.0 L985.8,2091.1 L987.6,2089.1 L989.5,2087.3 L991.4,2085.4 L993.3,2083.6 L995.2,2081.9 L997.2,2080.2 L999.1,2078.5 L1001.1,2076.9 L1003.1,2075.3 L1005.2,2073.8 L1007.2,2072.3 L1009.3,2070.9 L1011.4,2069.5 L1013.5,2068.1 L1015.6,2066.9 L1017.7,2065.6 L1019.9,2064.4 L1022.1,2063.3 L1024.2,2062.2 L1026.4,2061.1 L1028.7,2060.1 L1030.9,2059.1 L1033.1,2058.1 L1035.4,2057.2 L1037.7,2056.4 L1040.0,2055.5 L1042.2,2054.7 L1044.6,2053.9 L1046.9,2053.2 L1049.2,2052.5 L1051.6,2051.8 L1053.9,2051.1 L1056.3,2050.5 L1058.6,2049.9 L1061.0,2049.3 L1063.4,2048.7 L1065.8,2048.2 L1068.2,2047.7 L1070.6,2047.2 L1073.0,2046.7 L1075.5,2046.2 L1077.9,2045.8 L1080.3,2045.4 L1082.8,2044.9 L1085.2,2044.5 L1087.7,2044.1 L1090.1,2043.8 L1092.6,2043.4 L1095.0,2043.0 L1097.5,2042.7 L1100.0,2042.3 L1102.4,2042.0 L1104.9,2041.6 L1107.4,2041.3 L1109.8,2040.9 L1112.3,2040.6 L1114.8,2040.3 L1117.3,2039.9 L1119.7,2039.6 L1122.2,2039.3 L1124.7,2038.9 L1127.2,2038.6 L1129.6,2038.3 L1132.1,2038.0 L1134.6,2037.7 L1137.1,2037.4 L1139.6,2037.0 L1142.0,2036.7 L1144.5,2036.4 L1147.0,2036.1 L1149.5,2035.8 L1152.0,2035.5 L1154.5,2035.2 L1156.9,2034.9 L1159.4,2034.6 L1161.9,2034.4 L1164.4,2034.1 L1166.9,2033.8 L1169.4,2033.5 L1171.9,2033.2 L1174.4,2033.0 L1176.9,2032.7 L1179.3,2032.4 L1181.8,2032.1 L1184.3,2031.9 L1186.8,2031.6 L1189.3,2031.3 L1191.8,2031.1 L1194.3,2030.8 L1196.8,2030.6 L1199.3,2030.3 L1201.8,2030.1 L1204.3,2029.8 L1206.8,2029.6 L1209.3,2029.3 L1211.8,2029.1 L1214.3,2028.8 L1216.8,2028.6 L1219.3,2028.4 L1221.8,2028.1 L1224.3,2027.9 L1226.8,2027.7 L1229.3,2027.4 L1231.8,2027.2 L1234.3,2027.0 L1236.8,2026.8 L1239.3,2026.5 L1241.8,2026.3 L1244.3,2026.1 L1246.8,2025.9 L1249.3,2025.7 L1251.8,2025.5 L1254.3,2025.3 L1256.9,2025.1 L1259.4,2024.9 L1261.9,2024.7 L1264.4,2024.5 L1266.9,2024.3 L1269.4,2024.1 L1271.9,2023.9 L1274.4,2023.7 L1276.9,2023.5 L1279.4,2023.3 L1281.9,2023.1 L1284.4,2023.0 L1287.0,2022.8 L1289.5,2022.6 L1292.0,2022.4 L1294.5,2022.3 L1297.0,2022.1 L1299.5,2021.9 L1302.0,2021.8 L1304.5,2021.6 L1307.0,2021.4 L1309.6,2021.3 L1312.1,2021.1 L1314.6,2020.9 L1317.1,2020.8 L1319.6,2020.6 L1322.1,2020.5 L1324.6,2020.3 L1327.1,2020.2 L1329.7,2020.0 L1332.2,2019.9 L1334.7,2019.8 L1337.2,2019.6 L1339.7,2019.5 L1342.2,2019.3 L1344.7,2019.2 L1347.2,2019.1 L1349.8,2018.9 L1352.3,2018.8 L1354.8,2018.7 L1357.3,2018.6 L1359.8,2018.4 L1362.3,2018.3 L1364.8,2018.2 L1367.3,2018.1 L1369.9,2018.0 L1372.4,2017.9 L1374.9,2017.7 L1377.4,2017.6 L1379.9,2017.5 L1382.4,2017.4 L1384.9,2017.3 L1387.4,2017.2 L1390.0,2017.1 L1392.5,2017.0 L1395.0,2016.9 L1397.5,2016.8 L1400.0,2016.7 L1402.5,2016.6 L1405.0,2016.5 L1407.5,2016.4 L1410.0,2016.3 L1412.5,2016.3 L1415.1,2016.2 L1417.6,2016.1 L1420.1,2016.0 L1422.6,2015.9 L1425.1,2015.9 L1427.6,2015.8 L1430.1,2015.7 L1432.6,2015.6 L1435.1,2015.6 L1437.6,2015.5 L1440.1,2015.4 L1442.6,2015.4 L1445.1,2015.3 L1447.6,2015.2 L1450.2,2015.2 L1452.7,2015.1 L1455.2,2015.0 L1457.7,2015.0 L1460.2,2014.9 L1462.7,2014.9 L1465.2,2014.8 L1467.7,2014.8 L1470.2,2014.7 L1472.7,2014.7 L1475.2,2014.6 L1477.7,2014.6 L1480.2,2014.5 L1482.7,2014.5 L1485.2,2014.5 L1487.7,2014.4 L1490.2,2014.4 L1492.7,2014.3 L1495.2,2014.3 L1497.7,2014.3 L1500.1,2014.2 L1502.6,2014.2 L1505.1,2014.2 L1507.6,2014.1 L1510.1,2014.1 L1512.6,2014.1 L1515.1,2014.1 L1517.6,2014.0 L1520.1,2014.0 L1522.6,2014.0 L1525.1,2013.9 L1527.6,2013.9 L1530.0,2013.9 L1532.5,2013.9 L1535.0,2013.8 L1537.5,2013.8 L1540.0,2013.8 L1542.5,2013.7 L1545.0,2013.7 L1547.5,2013.7 L1549.9,2013.6 L1552.4,2013.6 L1554.9,2013.5 L1557.4,2013.5 L1559.9,2013.4 L1562.4,2013.4 L1564.8,2013.3 L1567.3,2013.3 L1569.8,2013.2 L1572.3,2013.2 L1574.8,2013.1 L1577.3,2013.1 L1579.7,2013.0 L1582.2,2012.9 L1584.7,2012.8 L1587.2,2012.8 L1589.7,2012.7 L1592.1,2012.6 L1594.6,2012.5 L1597.1,2012.4 L1599.6,2012.3 L1602.0,2012.2 L1604.5,2012.1 L1607.0,2012.0 L1609.5,2011.9 L1612.0,2011.8 L1614.4,2011.7 L1616.9,2011.5 L1619.4,2011.4 L1621.9,2011.2 L1624.3,2011.1 L1626.8,2010.9 L1629.3,2010.8 L1631.8,2010.6 L1634.2,2010.5 L1636.7,2010.3 L1639.2,2010.1 L1641.6,2009.9 L1644.1,2009.7 L1646.6,2009.5 L1649.1,2009.3 L1651.5,2009.1 L1654.0,2008.9 L1656.5,2008.6 L1659.0,2008.4 L1661.4,2008.2 L1663.9,2007.9 L1666.4,2007.7 L1668.8,2007.4 L1671.3,2007.1 L1673.8,2006.8 L1676.3,2006.5 L1678.7,2006.2 L1681.2,2005.9 L1683.7,2005.6 L1686.1,2005.3 L1688.6,2004.9 L1691.1,2004.6 L1693.5,2004.3 L1696.0,2003.9 L1698.5,2003.5 L1700.9,2003.1 L1703.4,2002.7 L1705.9,2002.3 L1708.4,2001.9 L1710.8,2001.5 L1713.3,2001.1 L1715.8,2000.6 L1718.2,2000.2 L1720.7,1999.7 L1723.2,1999.2 L1725.6,1998.8 L1728.1,1998.3 L1730.6,1997.8 L1733.0,1997.2 L1735.5,1996.7 L1738.0,1996.2 L1740.4,1995.6 L1742.9,1995.1 L1745.4,1994.5 L1747.8,1993.9 L1750.3,1993.3 L1752.8,1992.7 L1755.2,1992.1 L1757.7,1991.4 L1760.2,1990.8 L1762.7,1990.1 L1765.1,1989.4 L1767.6,1988.7 L1770.1,1988.0 L1772.5,1987.4 L1775.0,1986.7 L1777.5,1985.9 L1779.9,1985.2 L1782.4,1984.5 L1784.9,1983.8 L1787.3,1983.2 L1789.8,1982.5 L1792.3,1981.8 L1794.7,1981.1 L1797.2,1980.5 L1799.7,1979.8 L1802.1,1979.2 L1804.6,1978.6 L1807.1,1978.0 L1809.6,1977.5 L1812.0,1976.9 L1814.5,1976.4 L1817.0,1975.9 L1819.4,1975.5 L1821.9,1975.0 L1824.4,1974.6 L1826.8,1974.3 L1829.3,1973.9 L1831.8,1973.6 L1834.3,1973.3 L1836.7,1973.1 L1839.2,1972.8 L1841.7,1972.6 L1844.1,1972.4 L1846.6,1972.3 L1849.1,1972.1 L1851.6,1972.0 L1854.0,1971.8 L1856.5,1971.7 L1859.0,1971.6 L1861.4,1971.6 L1863.9,1971.5 L1866.4,1971.4 L1868.9,1971.3 L1871.3,1971.3 L1873.8,1971.2 L1876.3,1971.2 L1878.8,1971.2 L1881.2,1971.1 L1883.7,1971.1 L1886.2,1971.0 L1888.7,1971.0 L1891.1,1970.9 L1893.6,1970.9 L1896.1,1970.8 L1898.6,1970.7 L1901.0,1970.6 L1903.5,1970.5 L1906.0,1970.4 L1908.5,1970.3 L1911.0,1970.2 L1913.4,1970.1 L1915.9,1969.9 L1918.4,1969.8 L1920.9,1969.7 L1923.4,1969.5 L1925.8,1969.3 L1928.3,1969.2 L1930.8,1969.0 L1933.3,1968.8 L1935.8,1968.6 L1938.2,1968.5 L1940.7,1968.3 L1943.2,1968.1 L1945.7,1967.9 L1948.2,1967.6 L1950.7,1967.4 L1953.2,1967.2 L1955.6,1967.0 L1958.1,1966.8 L1960.6,1966.5 L1963.1,1966.3 L1965.6,1966.1 L1968.1,1965.8 L1970.6,1965.6 L1973.1,1965.3 L1975.5,1965.1 L1978.0,1964.8 L1980.5,1964.6 L1983.0,1964.3 L1985.5,1964.0 L1988.0,1963.8 L1990.5,1963.5 L1993.0,1963.2 L1995.5,1963.0 L1998.0,1962.7 L2000.5,1962.4 L2003.0,1962.2 L2005.5,1961.9 L2007.9,1961.6 L2010.4,1961.4 L2012.9,1961.1 L2015.4,1960.8 L2017.9,1960.6 L2020.4,1960.3 L2022.9,1960.0 L2025.4,1959.8 L2027.9,1959.5 L2030.4,1959.2 L2032.9,1959.0 L2035.4,1958.7 L2037.9,1958.4 L2040.4,1958.2 L2042.9,1957.9 L2045.5,1957.7 L2048.0,1957.4 L2050.5,1957.2 L2053.0,1956.9 L2055.5,1956.7 L2058.0,1956.5 L2060.5,1956.2 L2063.0,1956.0" fill="none" stroke="#1bb35c" stroke-width="4.1" stroke-linejoin="round" stroke-linecap="round"/>
<path d="M272.5,2317.9 L272.4,2321.5 L272.4,2325.1 L272.3,2328.7 L272.3,2332.3 L272.2,2335.9 L272.2,2339.7 L272.2,2344.0 L272.2,2348.3 L272.2,2352.7 L272.3,2357.2 L272.4,2361.7 L272.5,2366.1 L272.7,2370.5 L272.9,2375.0 L273.2,2379.5 L273.5,2383.9 L273.8,2388.3 L274.2,2392.6 L274.5,2396.6 L274.8,2400.7 L275.2,2404.8 L275.6,2408.7 L276.1,2412.4 L276.8,2415.7 L277.4,2417.9 L278.0,2420.0 L278.7,2422.0 L279.5,2423.8 L280.4,2425.5 L281.5,2427.0 L282.6,2428.2 L283.9,2429.3 L285.2,2430.3 L286.6,2431.2 L288.0,2431.9 L289.4,2432.3 L290.5,2432.5 L291.6,2432.5 L292.7,2432.4 L293.8,2432.3 L294.9,2432.0 L296.0,2431.6 L297.1,2431.1 L298.3,2430.4 L299.3,2429.6 L300.4,2428.7 L301.5,2427.8 L302.6,2427.0 L302.6,2427.0 L304.3,2425.0 L305.9,2422.9 L307.5,2420.9 L309.1,2418.8 L310.7,2416.8 L312.2,2414.7 L313.7,2412.7 L315.1,2410.6 L316.6,2408.6 L318.0,2406.5 L319.4,2404.4 L320.7,2402.4 L322.1,2400.3 L323.4,2398.2 L324.7,2396.2 L326.0,2394.1 L327.2,2392.0 L328.5,2390.0 L329.7,2387.9 L331.0,2385.8 L332.2,2383.7 L333.4,2381.7 L334.6,2379.6 L335.8,2377.5 L337.0,2375.4 L338.1,2373.3 L339.3,2371.2 L340.5,2369.1 L341.6,2367.0 L342.8,2365.0 L344.0,2362.8 L345.1,2360.7 L346.3,2358.6 L347.5,2356.5 L348.7,2354.4 L349.9,2352.3 L351.1,2350.2 L352.3,2348.1 L353.5,2345.9 L354.7,2343.8 L355.9,2341.7 L357.2,2339.6 L358.5,2337.4 L359.7,2335.3 L361.0,2333.2 L362.4,2331.0 L363.7,2328.9 L365.1,2326.7 L366.4,2324.6 L367.8,2322.4 L369.3,2320.2 L370.7,2318.1 L372.2,2315.9 L373.7,2313.7 L375.3,2311.6 L376.8,2309.4 L378.4,2307.3 L380.0,2305.1 L381.7,2303.0 L383.3,2300.8 L385.0,2298.7 L386.7,2296.6 L388.5,2294.5 L390.2,2292.5 L392.0,2290.4 L393.8,2288.4 L395.6,2286.4 L397.4,2284.5 L399.3,2282.5 L401.2,2280.6 L403.1,2278.8 L405.0,2277.0 L406.9,2275.2 L408.9,2273.4 L410.8,2271.8 L412.8,2270.1 L414.8,2268.5 L416.8,2267.0 L418.9,2265.5 L420.9,2264.0 L423.0,2262.6 L425.0,2261.3 L427.1,2260.0 L429.2,2258.8 L431.4,2257.7 L433.5,2256.6 L435.6,2255.6 L437.8,2254.7 L439.9,2253.9 L442.1,2253.1 L444.3,2252.4 L446.5,2251.8 L448.7,2251.2 L450.9,2250.8 L453.1,2250.4 L455.3,2250.2 L457.6,2250.0 L459.8,2249.9 L462.0,2249.9 L464.3,2250.0 L466.6,2250.2 L468.8,2250.4 L471.1,2250.7 L473.3,2251.1 L475.6,2251.6 L477.9,2252.1 L480.2,2252.7 L482.4,2253.4 L484.7,2254.2 L487.0,2255.0 L489.2,2255.8 L491.5,2256.8 L493.8,2257.7 L496.0,2258.8 L498.3,2259.8 L500.6,2261.0 L502.8,2262.2 L505.1,2263.4 L507.3,2264.6 L509.5,2265.9 L511.8,2267.3 L514.0,2268.7 L516.2,2270.1 L518.4,2271.5 L520.6,2273.0 L522.8,2274.5 L525.0,2276.0 L527.1,2277.6 L529.3,2279.1 L531.4,2280.7 L533.5,2282.3 L535.6,2283.9 L537.7,2285.5 L539.8,2287.2 L541.9,2288.8 L543.9,2290.4 L546.0,2292.1 L548.0,2293.7 L550.0,2295.4 L552.0,2297.0 L554.0,2298.7 L555.9,2300.3 L557.9,2302.0 L559.8,2303.6 L561.7,2305.3 L563.6,2306.9 L565.6,2308.6 L567.4,2310.3 L569.3,2311.9 L571.2,2313.6 L573.1,2315.2 L575.0,2316.9 L576.8,2318.5 L578.7,2320.1 L580.5,2321.8 L582.4,2323.4 L584.2,2325.0 L586.0,2326.7 L587.9,2328.3 L589.7,2329.9 L591.5,2331.5 L593.4,2333.1 L595.2,2334.7 L597.0,2336.3 L598.9,2337.9 L600.7,2339.5 L602.5,2341.1 L604.4,2342.7 L606.2,2344.2 L608.1,2345.8 L609.9,2347.3 L611.8,2348.9 L613.7,2350.4 L615.5,2351.9 L617.4,2353.4 L619.3,2354.9 L621.2,2356.4 L623.1,2357.9 L625.0,2359.4 L627.0,2360.8 L628.9,2362.3 L630.9,2363.7 L632.8,2365.1 L634.8,2366.5 L636.8,2367.9 L638.8,2369.3 L640.8,2370.7 L642.9,2372.1 L644.9,2373.4 L647.0,2374.7 L649.1,2376.1 L651.2,2377.4 L653.3,2378.7 L655.4,2379.9 L657.6,2381.2 L659.7,2382.4 L661.9,2383.7 L664.1,2384.9 L666.2,2386.1 L668.4,2387.2 L670.7,2388.4 L672.9,2389.5 L675.1,2390.6 L677.4,2391.8 L679.6,2392.8 L681.9,2393.9 L684.2,2394.9 L686.5,2396.0 L688.8,2397.0 L691.1,2398.0 L693.5,2398.9 L695.8,2399.9 L698.1,2400.8 L700.5,2401.7 L702.8,2402.6 L705.2,2403.4 L707.6,2404.3 L710.0,2405.1 L712.4,2405.8 L714.8,2406.6 L717.2,2407.4 L719.6,2408.1 L722.0,2408.8 L724.5,2409.4 L726.9,2410.1 L729.3,2410.7 L731.8,2411.3 L734.2,2411.8 L736.7,2412.4 L739.2,2412.9 L741.6,2413.4 L744.1,2413.8 L746.6,2414.3 L749.1,2414.7 L751.6,2415.1 L754.0,2415.5 L756.5,2415.8 L759.0,2416.2 L761.5,2416.5 L764.0,2416.8 L766.5,2417.1 L769.1,2417.5 L771.6,2417.8 L774.1,2418.1 L776.6,2418.3 L779.1,2418.6 L781.6,2418.9 L784.1,2419.2 L786.7,2419.5 L789.2,2419.8 L791.7,2420.1 L794.2,2420.4 L796.7,2420.8 L799.3,2421.1 L801.8,2421.5 L804.3,2421.8 L806.8,2422.2 L809.3,2422.6 L811.8,2423.0 L814.3,2423.4 L816.8,2423.9 L819.4,2424.4 L821.9,2424.9 L824.4,2425.4 L826.9,2426.0 L829.4,2426.6 L831.8,2427.2 L834.3,2427.9 L836.8,2428.6 L839.3,2429.3 L841.8,2430.1 L844.2,2430.9 L846.7,2431.7 L849.2,2432.5 L851.6,2433.3 L854.1,2434.2 L856.5,2435.0 L859.0,2435.8 L861.4,2436.7 L863.8,2437.5 L866.2,2438.3 L868.7,2439.0 L871.1,2439.7 L873.5,2440.4 L875.8,2441.0 L878.2,2441.6 L880.6,2442.1 L883.0,2442.6 L885.3,2443.0 L887.7,2443.3 L890.0,2443.5 L892.3,2443.7 L894.7,2443.8 L897.0,2443.8 L899.2,2443.7 L901.5,2443.6 L903.8,2443.3 L906.0,2443.0 L908.2,2442.7 L910.4,2442.2 L912.6,2441.7 L914.7,2441.0 L916.8,2440.3 L918.9,2439.5 L921.0,2438.7 L923.0,2437.7 L925.0,2436.7 L927.0,2435.6 L928.9,2434.4 L930.8,2433.1 L932.7,2431.7 L934.5,2430.3 L936.3,2428.7 L938.0,2427.1 L939.7,2425.4 L941.4,2423.6 L943.1,2421.8 L944.7,2419.9 L946.3,2417.9 L947.8,2415.9 L949.4,2413.8 L950.9,2411.7 L952.4,2409.6 L953.9,2407.4 L955.4,2405.2 L956.9,2403.0 L958.4,2400.8 L959.9,2398.5 L961.4,2396.3 L962.9,2394.0 L964.4,2391.8 L965.9,2389.6 L967.4,2387.4 L969.0,2385.2 L970.5,2383.0 L972.1,2380.9 L973.7,2378.8 L975.4,2376.7 L977.0,2374.7 L978.7,2372.8 L980.5,2370.9 L982.2,2369.1 L984.0,2367.3 L985.9,2365.6 L987.7,2364.0 L989.6,2362.4 L991.6,2360.8 L993.5,2359.3 L995.5,2357.9 L997.6,2356.4 L999.6,2355.1 L1001.7,2353.8 L1003.8,2352.5 L1005.9,2351.3 L1008.0,2350.1 L1010.2,2348.9 L1012.3,2347.8 L1014.5,2346.7 L1016.8,2345.7 L1019.0,2344.7 L1021.2,2343.7 L1023.5,2342.7 L1025.8,2341.8 L1028.1,2340.9 L1030.4,2340.0 L1032.7,2339.2 L1035.0,2338.4 L1037.3,2337.6 L1039.7,2336.8 L1042.0,2336.0 L1044.4,2335.2 L1046.7,2334.5 L1049.1,2333.8 L1051.4,2333.1 L1053.8,2332.4 L1056.2,2331.7 L1058.5,2331.0 L1060.9,2330.3 L1063.3,2329.7 L1065.7,2329.0 L1068.1,2328.4 L1070.4,2327.7 L1072.8,2327.1 L1075.2,2326.5 L1077.6,2325.9 L1080.0,2325.4 L1082.4,2324.8 L1084.8,2324.2 L1087.2,2323.7 L1089.6,2323.1 L1092.0,2322.6 L1094.4,2322.1 L1096.8,2321.6 L1099.2,2321.1 L1101.7,2320.6 L1104.1,2320.1 L1106.5,2319.6 L1108.9,2319.2 L1111.3,2318.7 L1113.8,2318.3 L1116.2,2317.8 L1118.6,2317.4 L1121.1,2317.0 L1123.5,2316.6 L1125.9,2316.2 L1128.4,2315.8 L1130.8,2315.4 L1133.3,2315.0 L1135.7,2314.7 L1138.2,2314.3 L1140.6,2314.0 L1143.1,2313.6 L1145.5,2313.3 L1148.0,2312.9 L1150.4,2312.6 L1152.9,2312.3 L1155.4,2312.0 L1157.8,2311.7 L1160.3,2311.4 L1162.8,2311.1 L1165.2,2310.8 L1167.7,2310.5 L1170.2,2310.3 L1172.6,2310.0 L1175.1,2309.7 L1177.6,2309.5 L1180.1,2309.2 L1182.5,2309.0 L1185.0,2308.8 L1187.5,2308.5 L1190.0,2308.3 L1192.5,2308.1 L1195.0,2307.9 L1197.5,2307.7 L1199.9,2307.4 L1202.4,2307.2 L1204.9,2307.1 L1207.4,2306.9 L1209.9,2306.7 L1212.4,2306.5 L1214.9,2306.3 L1217.4,2306.1 L1219.9,2306.0 L1222.4,2305.8 L1224.9,2305.6 L1227.4,2305.5 L1229.9,2305.3 L1232.4,2305.1 L1234.9,2305.0 L1237.4,2304.8 L1239.9,2304.7 L1242.4,2304.6 L1244.9,2304.4 L1247.4,2304.3 L1250.0,2304.1 L1252.5,2304.0 L1255.0,2303.9 L1257.5,2303.8 L1260.0,2303.6 L1262.5,2303.5 L1265.0,2303.4 L1267.5,2303.3 L1270.1,2303.1 L1272.6,2303.0 L1275.1,2302.9 L1277.6,2302.8 L1280.1,2302.7 L1282.6,2302.5 L1285.2,2302.4 L1287.7,2302.3 L1290.2,2302.2 L1292.7,2302.1 L1295.2,2302.0 L1297.8,2301.9 L1300.3,2301.7 L1302.8,2301.6 L1305.3,2301.5 L1307.8,2301.4 L1310.4,2301.3 L1312.9,2301.2 L1315.4,2301.1 L1317.9,2300.9 L1320.5,2300.8 L1323.0,2300.7 L1325.5,2300.6 L1328.0,2300.5 L1330.5,2300.3 L1333.1,2300.2 L1335.6,2300.1 L1338.1,2300.0 L1340.6,2299.8 L1343.2,2299.7 L1345.7,2299.6 L1348.2,2299.4 L1350.7,2299.3 L1353.2,2299.2 L1355.8,2299.0 L1358.3,2298.9 L1360.8,2298.7 L1363.3,2298.6 L1365.8,2298.4 L1368.3,2298.2 L1370.9,2298.1 L1373.4,2297.9 L1375.9,2297.7 L1378.4,2297.6 L1380.9,2297.4 L1383.4,2297.2 L1386.0,2297.0 L1388.5,2296.8 L1391.0,2296.6 L1393.5,2296.4 L1396.0,2296.2 L1398.5,2296.0 L1401.0,2295.8 L1403.5,2295.6 L1406.1,2295.4 L1408.6,2295.2 L1411.1,2294.9 L1413.6,2294.7 L1416.1,2294.5 L1418.6,2294.2 L1421.1,2294.0 L1423.6,2293.8 L1426.1,2293.5 L1428.6,2293.3 L1431.1,2293.0 L1433.6,2292.7 L1436.1,2292.5 L1438.6,2292.2 L1441.1,2291.9 L1443.6,2291.7 L1446.1,2291.4 L1448.6,2291.1 L1451.1,2290.8 L1453.6,2290.6 L1456.1,2290.3 L1458.6,2290.0 L1461.1,2289.7 L1463.6,2289.4 L1466.1,2289.1 L1468.6,2288.8 L1471.1,2288.5 L1473.6,2288.2 L1476.1,2287.9 L1478.6,2287.6 L1481.1,2287.2 L1483.6,2286.9 L1486.0,2286.6 L1488.5,2286.3 L1491.0,2286.0 L1493.5,2285.6 L1496.0,2285.3 L1498.5,2285.0 L1501.0,2284.6 L1503.5,2284.3 L1506.0,2284.0 L1508.5,2283.6 L1510.9,2283.3 L1513.4,2283.0 L1515.9,2282.6 L1518.4,2282.3 L1520.9,2281.9 L1523.4,2281.6 L1525.9,2281.2 L1528.3,2280.9 L1530.8,2280.5 L1533.3,2280.2 L1535.8,2279.8 L1538.3,2279.5 L1540.8,2279.1 L1543.2,2278.8 L1545.7,2278.4 L1548.2,2278.1 L1550.7,2277.7 L1553.2,2277.4 L1555.7,2277.0 L1558.1,2276.6 L1560.6,2276.3 L1563.1,2275.9 L1565.6,2275.6 L1568.1,2275.2 L1570.5,2274.8 L1573.0,2274.5 L1575.5,2274.1 L1578.0,2273.7 L1580.5,2273.4 L1582.9,2273.0 L1585.4,2272.6 L1587.9,2272.3 L1590.4,2271.9 L1592.8,2271.6 L1595.3,2271.2 L1597.8,2270.8 L1600.3,2270.5 L1602.7,2270.1 L1605.2,2269.7 L1607.7,2269.4 L1610.2,2269.0 L1612.7,2268.7 L1615.1,2268.3 L1617.6,2267.9 L1620.1,2267.6 L1622.6,2267.2 L1625.0,2266.9 L1627.5,2266.5 L1630.0,2266.2 L1632.5,2265.8 L1634.9,2265.5 L1637.4,2265.1 L1639.9,2264.8 L1642.3,2264.4 L1644.8,2264.1 L1647.3,2263.7 L1649.8,2263.4 L1652.2,2263.0 L1654.7,2262.7 L1657.2,2262.3 L1659.7,2262.0 L1662.1,2261.7 L1664.6,2261.3 L1667.1,2261.0 L1669.6,2260.7 L1672.0,2260.3 L1674.5,2260.0 L1677.0,2259.7 L1679.4,2259.4 L1681.9,2259.0 L1684.4,2258.7 L1686.9,2258.4 L1689.3,2258.1 L1691.8,2257.8 L1694.3,2257.5 L1696.8,2257.2 L1699.2,2256.9 L1701.7,2256.6 L1704.2,2256.3 L1706.6,2256.0 L1709.1,2255.7 L1711.6,2255.4 L1714.1,2255.1 L1716.5,2254.8 L1719.0,2254.5 L1721.5,2254.2 L1724.0,2254.0 L1726.4,2253.7 L1728.9,2253.4 L1731.4,2253.1 L1733.8,2252.9 L1736.3,2252.6 L1738.8,2252.4 L1741.3,2252.1 L1743.7,2251.8 L1746.2,2251.6 L1748.7,2251.3 L1751.2,2251.1 L1753.6,2250.8 L1756.1,2250.6 L1758.6,2250.4 L1761.1,2250.1 L1763.5,2249.9 L1766.0,2249.7 L1768.5,2249.4 L1771.0,2249.2 L1773.4,2249.0 L1775.9,2248.8 L1778.4,2248.5 L1780.9,2248.3 L1783.3,2248.1 L1785.8,2247.9 L1788.3,2247.7 L1790.8,2247.5 L1793.2,2247.2 L1795.7,2247.0 L1798.2,2246.8 L1800.7,2246.6 L1803.2,2246.4 L1805.6,2246.2 L1808.1,2246.0 L1810.6,2245.8 L1813.1,2245.6 L1815.6,2245.4 L1818.0,2245.3 L1820.5,2245.1 L1823.0,2244.9 L1825.5,2244.7 L1828.0,2244.5 L1830.4,2244.3 L1832.9,2244.1 L1835.4,2244.0 L1837.9,2243.8 L1840.4,2243.6 L1842.8,2243.4 L1845.3,2243.3 L1847.8,2243.1 L1850.3,2242.9 L1852.8,2242.7 L1855.3,2242.6 L1857.7,2242.4 L1860.2,2242.2 L1862.7,2242.1 L1865.2,2241.9 L1867.7,2241.7 L1870.2,2241.6 L1872.7,2241.4 L1875.1,2241.2 L1877.6,2241.1 L1880.1,2240.9 L1882.6,2240.8 L1885.1,2240.6 L1887.6,2240.5 L1890.1,2240.3 L1892.6,2240.1 L1895.1,2240.0 L1897.5,2239.8 L1900.0,2239.7 L1902.5,2239.5 L1905.0,2239.4 L1907.5,2239.2 L1910.0,2239.1 L1912.5,2238.9 L1915.0,2238.8 L1917.5,2238.6 L1920.0,2238.5 L1922.5,2238.3 L1925.0,2238.2 L1927.5,2238.0 L1930.0,2237.9 L1932.5,2237.7 L1935.0,2237.6 L1937.5,2237.4 L1940.0,2237.3 L1942.5,2237.1 L1945.0,2237.0 L1947.5,2236.8 L1950.0,2236.7 L1952.5,2236.5 L1955.0,2236.4 L1957.5,2236.2 L1960.0,2236.1 L1962.5,2235.9 L1965.0,2235.8 L1967.5,2235.6 L1970.0,2235.5 L1972.5,2235.3 L1975.0,2235.2 L1977.5,2235.0 L1980.0,2234.9 L1982.5,2234.7 L1985.1,2234.6 L1987.6,2234.4 L1990.1,2234.3 L1992.6,2234.1 L1995.1,2233.9 L1997.6,2233.8 L2000.1,2233.6 L2002.6,2233.5 L2005.2,2233.3 L2007.7,2233.2 L2010.2,2233.0 L2012.7,2232.8 L2015.2,2232.7 L2017.7,2232.5 L2020.3,2232.3 L2022.8,2232.2 L2025.3,2232.0 L2027.8,2231.9 L2030.3,2231.7 L2032.9,2231.5 L2035.4,2231.3 L2037.9,2231.2 L2040.4,2231.0 L2043.0,2230.8 L2045.5,2230.7 L2048.0,2230.5 L2050.6,2230.3 L2053.1,2230.1 L2055.6,2229.9 L2058.1,2229.8 L2060.7,2229.6 L2063.2,2229.4" fill="none" stroke="#ff5c5c" stroke-width="4.1" stroke-linejoin="round" stroke-linecap="round"/>
<path d="M273.4,2214.2 L273.6,2221.9 L273.7,2229.6 L273.9,2237.3 L274.0,2245.0 L274.2,2252.5 L274.5,2260.0 L274.8,2267.0 L275.2,2274.1 L275.7,2281.0 L276.1,2287.8 L276.5,2294.2 L276.8,2300.0 L276.9,2303.7 L277.1,2307.0 L277.1,2310.2 L277.2,2313.2 L277.3,2316.4 L277.5,2319.8 L277.8,2324.0 L278.1,2328.5 L278.4,2333.1 L278.8,2337.6 L279.1,2342.1 L279.5,2346.3 L279.8,2349.7 L280.2,2353.0 L280.5,2356.2 L280.8,2359.4 L281.2,2362.7 L281.5,2366.1 L281.8,2370.3 L282.1,2374.6 L282.4,2379.1 L282.7,2383.6 L283.0,2388.1 L283.4,2392.6 L283.8,2397.0 L284.3,2401.5 L284.7,2406.0 L285.2,2410.5 L285.7,2414.8 L286.1,2419.0 L286.4,2422.5 L286.8,2425.9 L287.1,2429.2 L287.4,2432.4 L287.7,2435.6 L288.1,2438.9 L288.5,2442.1 L288.9,2445.4 L289.2,2448.6 L289.7,2451.8 L290.1,2454.9 L290.5,2458.0 L290.9,2460.7 L291.3,2463.3 L291.6,2465.8 L292.1,2468.4 L292.5,2470.9 L293.0,2473.5 L293.6,2476.2 L294.2,2479.0 L294.8,2481.8 L295.5,2484.6 L296.2,2487.3 L297.0,2490.0 L297.8,2492.7 L298.6,2495.5 L299.4,2498.2 L300.3,2500.8 L301.4,2503.2 L302.7,2505.3 L304.0,2506.7 L305.5,2507.9 L307.1,2509.0 L308.7,2510.0 L310.4,2510.9 L312.0,2512.0 L312.0,2512.0 L314.6,2513.4 L317.2,2514.5 L319.8,2515.5 L322.3,2516.4 L324.8,2517.0 L327.3,2517.6 L329.7,2517.9 L332.1,2518.2 L334.5,2518.3 L336.8,2518.3 L339.1,2518.2 L341.5,2517.9 L343.7,2517.6 L346.0,2517.1 L348.3,2516.6 L350.5,2516.0 L352.8,2515.3 L355.0,2514.6 L357.2,2513.8 L359.5,2512.9 L361.7,2512.0 L363.9,2511.0 L366.2,2510.1 L368.4,2509.0 L370.6,2508.0 L372.9,2506.9 L375.1,2505.9 L377.4,2504.8 L379.7,2503.6 L381.9,2502.5 L384.2,2501.3 L386.5,2500.2 L388.8,2499.0 L391.1,2497.8 L393.4,2496.6 L395.7,2495.4 L398.0,2494.2 L400.3,2493.1 L402.6,2491.9 L404.9,2490.7 L407.2,2489.5 L409.6,2488.4 L411.9,2487.2 L414.2,2486.1 L416.6,2485.0 L418.9,2483.9 L421.3,2482.9 L423.6,2481.8 L426.0,2480.8 L428.3,2479.8 L430.7,2478.9 L433.1,2478.0 L435.4,2477.1 L437.8,2476.3 L440.2,2475.5 L442.6,2474.7 L445.0,2474.0 L447.4,2473.4 L449.8,2472.8 L452.2,2472.2 L454.6,2471.7 L457.0,2471.3 L459.4,2470.9 L461.9,2470.6 L464.3,2470.4 L466.7,2470.2 L469.1,2470.1 L471.6,2470.0 L474.0,2470.0 L476.4,2470.1 L478.9,2470.3 L481.3,2470.5 L483.8,2470.7 L486.2,2471.1 L488.6,2471.5 L491.0,2471.9 L493.5,2472.4 L495.9,2473.0 L498.3,2473.6 L500.7,2474.3 L503.1,2475.0 L505.5,2475.7 L507.8,2476.6 L510.2,2477.4 L512.5,2478.3 L514.9,2479.3 L517.2,2480.3 L519.5,2481.3 L521.7,2482.4 L524.0,2483.5 L526.3,2484.7 L528.5,2485.9 L530.7,2487.2 L532.9,2488.4 L535.1,2489.8 L537.2,2491.1 L539.3,2492.5 L541.4,2493.9 L543.5,2495.3 L545.5,2496.8 L547.5,2498.3 L549.5,2499.8 L551.5,2501.4 L553.4,2502.9 L555.4,2504.5 L557.3,2506.2 L559.2,2507.8 L561.1,2509.5 L562.9,2511.1 L564.7,2512.8 L566.6,2514.5 L568.4,2516.3 L570.2,2518.0 L572.0,2519.7 L573.8,2521.5 L575.5,2523.3 L577.3,2525.0 L579.1,2526.8 L580.8,2528.6 L582.5,2530.4 L584.3,2532.2 L586.0,2534.0 L587.8,2535.8 L589.5,2537.6 L591.2,2539.4 L593.0,2541.2 L594.7,2543.0 L596.5,2544.8 L598.2,2546.6 L600.0,2548.3 L601.7,2550.1 L603.5,2551.9 L605.3,2553.6 L607.1,2555.4 L608.9,2557.1 L610.7,2558.8 L612.5,2560.5 L614.4,2562.2 L616.2,2563.8 L618.1,2565.4 L620.0,2567.1 L621.9,2568.7 L623.8,2570.3 L625.8,2571.8 L627.7,2573.4 L629.7,2574.9 L631.6,2576.4 L633.6,2578.0 L635.6,2579.4 L637.6,2580.9 L639.7,2582.4 L641.7,2583.8 L643.7,2585.3 L645.8,2586.7 L647.9,2588.1 L650.0,2589.5 L652.0,2590.8 L654.1,2592.2 L656.2,2593.6 L658.4,2594.9 L660.5,2596.2 L662.6,2597.6 L664.8,2598.9 L666.9,2600.2 L669.1,2601.4 L671.3,2602.7 L673.4,2604.0 L675.6,2605.2 L677.8,2606.5 L680.0,2607.7 L682.2,2609.0 L684.4,2610.2 L686.6,2611.4 L688.8,2612.6 L691.1,2613.8 L693.3,2615.0 L695.5,2616.2 L697.7,2617.4 L700.0,2618.5 L702.2,2619.7 L704.5,2620.9 L706.7,2622.0 L708.9,2623.2 L711.2,2624.3 L713.4,2625.4 L715.7,2626.6 L717.9,2627.7 L720.2,2628.8 L722.4,2630.0 L724.7,2631.1 L727.0,2632.2 L729.2,2633.3 L731.5,2634.5 L733.7,2635.6 L735.9,2636.7 L738.2,2637.8 L740.4,2639.0 L742.7,2640.1 L744.9,2641.2 L747.1,2642.3 L749.4,2643.5 L751.6,2644.6 L753.8,2645.7 L756.0,2646.9 L758.2,2648.0 L760.5,2649.2 L762.7,2650.3 L764.9,2651.5 L767.0,2652.7 L769.2,2653.8 L771.4,2655.0 L773.6,2656.2 L775.7,2657.4 L777.9,2658.6 L780.0,2659.8 L782.2,2661.0 L784.3,2662.3 L786.4,2663.5 L788.5,2664.8 L790.6,2666.0 L792.7,2667.3 L794.8,2668.6 L796.9,2669.9 L799.0,2671.2 L801.0,2672.5 L803.1,2673.9 L805.1,2675.2 L807.2,2676.5 L809.2,2677.9 L811.2,2679.3 L813.3,2680.6 L815.3,2682.0 L817.3,2683.4 L819.3,2684.8 L821.3,2686.2 L823.3,2687.6 L825.3,2689.1 L827.3,2690.5 L829.3,2692.0 L831.3,2693.4 L833.3,2694.9 L835.3,2696.3 L837.3,2697.8 L839.3,2699.3 L841.3,2700.8 L843.3,2702.3 L845.3,2703.8 L847.3,2705.3 L849.3,2706.9 L851.3,2708.4 L853.3,2709.9 L855.3,2711.5 L857.3,2713.0 L859.3,2714.6 L861.3,2716.1 L863.4,2717.7 L865.4,2719.3 L867.4,2720.9 L869.4,2722.4 L871.5,2724.0 L873.5,2725.6 L875.6,2727.2 L877.6,2728.9 L879.7,2730.5 L881.8,2732.1 L883.8,2733.7 L885.9,2735.3 L888.0,2737.0 L890.1,2738.6 L892.2,2740.2 L894.4,2741.8 L896.5,2743.4 L898.6,2745.0 L900.8,2746.5 L902.9,2748.0 L905.1,2749.5 L907.3,2750.9 L909.5,2752.2 L911.7,2753.5 L913.9,2754.7 L916.2,2755.9 L918.4,2756.9 L920.7,2757.9 L922.9,2758.8 L925.2,2759.6 L927.5,2760.3 L929.9,2760.9 L932.2,2761.4 L934.6,2761.7 L936.9,2762.0 L939.3,2762.1 L941.7,2762.0 L944.0,2761.8 L946.4,2761.5 L948.7,2761.0 L950.9,2760.3 L953.1,2759.5 L955.2,2758.5 L957.2,2757.3 L959.2,2756.0 L961.1,2754.5 L962.9,2752.9 L964.7,2751.1 L966.4,2749.3 L968.0,2747.3 L969.6,2745.3 L971.1,2743.2 L972.6,2741.0 L974.0,2738.8 L975.4,2736.5 L976.7,2734.2 L977.9,2731.9 L979.2,2729.6 L980.3,2727.3 L981.5,2725.0 L982.6,2722.7 L983.7,2720.4 L984.8,2718.1 L985.8,2715.9 L986.9,2713.6 L988.0,2711.3 L989.1,2709.1 L990.3,2706.9 L991.4,2704.7 L992.7,2702.5 L993.9,2700.3 L995.3,2698.2 L996.6,2696.1 L998.1,2694.0 L999.6,2691.9 L1001.3,2689.9 L1003.0,2687.9 L1004.7,2686.0 L1006.5,2684.1 L1008.4,2682.2 L1010.4,2680.3 L1012.3,2678.6 L1014.4,2676.8 L1016.4,2675.1 L1018.5,2673.4 L1020.7,2671.8 L1022.8,2670.3 L1025.0,2668.8 L1027.2,2667.3 L1029.4,2665.9 L1031.6,2664.6 L1033.8,2663.3 L1036.0,2662.1 L1038.2,2660.9 L1040.4,2659.8 L1042.7,2658.7 L1044.9,2657.7 L1047.2,2656.7 L1049.4,2655.8 L1051.7,2654.9 L1054.0,2654.1 L1056.2,2653.3 L1058.5,2652.6 L1060.8,2651.8 L1063.1,2651.2 L1065.4,2650.6 L1067.7,2650.0 L1070.1,2649.4 L1072.4,2648.9 L1074.7,2648.4 L1077.0,2648.0 L1079.4,2647.5 L1081.7,2647.2 L1084.1,2646.8 L1086.4,2646.5 L1088.8,2646.2 L1091.2,2645.9 L1093.6,2645.6 L1095.9,2645.4 L1098.3,2645.2 L1100.7,2645.0 L1103.1,2644.9 L1105.5,2644.7 L1107.9,2644.6 L1110.3,2644.5 L1112.8,2644.4 L1115.2,2644.4 L1117.6,2644.3 L1120.0,2644.3 L1122.5,2644.2 L1124.9,2644.2 L1127.4,2644.2 L1129.8,2644.2 L1132.3,2644.2 L1134.7,2644.2 L1137.2,2644.2 L1139.6,2644.3 L1142.1,2644.3 L1144.6,2644.3 L1147.1,2644.3 L1149.5,2644.3 L1152.0,2644.4 L1154.5,2644.4 L1157.0,2644.4 L1159.5,2644.4 L1162.0,2644.4 L1164.5,2644.5 L1167.0,2644.5 L1169.5,2644.5 L1172.0,2644.5 L1174.5,2644.5 L1177.0,2644.5 L1179.5,2644.6 L1182.1,2644.6 L1184.6,2644.6 L1187.1,2644.6 L1189.6,2644.6 L1192.2,2644.6 L1194.7,2644.6 L1197.2,2644.6 L1199.7,2644.7 L1202.3,2644.7 L1204.8,2644.7 L1207.4,2644.7 L1209.9,2644.7 L1212.4,2644.7 L1215.0,2644.7 L1217.5,2644.8 L1220.1,2644.8 L1222.6,2644.8 L1225.2,2644.8 L1227.7,2644.8 L1230.3,2644.9 L1232.8,2644.9 L1235.4,2644.9 L1237.9,2644.9 L1240.5,2645.0 L1243.0,2645.0 L1245.6,2645.0 L1248.1,2645.1 L1250.7,2645.1 L1253.2,2645.1 L1255.8,2645.2 L1258.3,2645.2 L1260.9,2645.3 L1263.5,2645.3 L1266.0,2645.4 L1268.6,2645.4 L1271.1,2645.5 L1273.7,2645.5 L1276.2,2645.6 L1278.8,2645.6 L1281.3,2645.7 L1283.9,2645.8 L1286.4,2645.8 L1289.0,2645.9 L1291.5,2646.0 L1294.1,2646.1 L1296.6,2646.2 L1299.1,2646.2 L1301.7,2646.3 L1304.2,2646.4 L1306.8,2646.5 L1309.3,2646.6 L1311.8,2646.7 L1314.4,2646.8 L1316.9,2646.9 L1319.4,2647.0 L1322.0,2647.1 L1324.5,2647.3 L1327.0,2647.4 L1329.6,2647.5 L1332.1,2647.6 L1334.6,2647.7 L1337.1,2647.9 L1339.7,2648.0 L1342.2,2648.1 L1344.7,2648.3 L1347.2,2648.4 L1349.8,2648.5 L1352.3,2648.7 L1354.8,2648.8 L1357.3,2648.9 L1359.8,2649.1 L1362.4,2649.2 L1364.9,2649.4 L1367.4,2649.5 L1369.9,2649.7 L1372.4,2649.8 L1374.9,2650.0 L1377.4,2650.1 L1379.9,2650.3 L1382.5,2650.4 L1385.0,2650.6 L1387.5,2650.7 L1390.0,2650.9 L1392.5,2651.0 L1395.0,2651.2 L1397.5,2651.4 L1400.0,2651.5 L1402.5,2651.7 L1405.0,2651.8 L1407.5,2652.0 L1410.0,2652.2 L1412.5,2652.3 L1415.0,2652.5 L1417.5,2652.6 L1420.0,2652.8 L1422.5,2653.0 L1425.0,2653.1 L1427.5,2653.3 L1430.0,2653.4 L1432.5,2653.6 L1435.0,2653.8 L1437.5,2653.9 L1440.0,2654.1 L1442.4,2654.2 L1444.9,2654.4 L1447.4,2654.5 L1449.9,2654.7 L1452.4,2654.9 L1454.9,2655.0 L1457.4,2655.2 L1459.9,2655.3 L1462.3,2655.5 L1464.8,2655.6 L1467.3,2655.8 L1469.8,2655.9 L1472.3,2656.1 L1474.8,2656.2 L1477.3,2656.3 L1479.7,2656.5 L1482.2,2656.6 L1484.7,2656.8 L1487.2,2656.9 L1489.7,2657.0 L1492.1,2657.2 L1494.6,2657.3 L1497.1,2657.4 L1499.6,2657.6 L1502.1,2657.7 L1504.5,2657.8 L1507.0,2657.9 L1509.5,2658.1 L1512.0,2658.2 L1514.4,2658.3 L1516.9,2658.4 L1519.4,2658.5 L1521.9,2658.6 L1524.3,2658.7 L1526.8,2658.8 L1529.3,2658.9 L1531.8,2659.0 L1534.2,2659.1 L1536.7,2659.2 L1539.2,2659.3 L1541.7,2659.4 L1544.1,2659.4 L1546.6,2659.5 L1549.1,2659.6 L1551.5,2659.6 L1554.0,2659.7 L1556.5,2659.8 L1558.9,2659.8 L1561.4,2659.9 L1563.9,2659.9 L1566.4,2660.0 L1568.8,2660.0 L1571.3,2660.1 L1573.8,2660.1 L1576.2,2660.1 L1578.7,2660.2 L1581.2,2660.2 L1583.6,2660.2 L1586.1,2660.2 L1588.6,2660.2 L1591.0,2660.2 L1593.5,2660.2 L1596.0,2660.2 L1598.4,2660.2 L1600.9,2660.2 L1603.4,2660.2 L1605.8,2660.2 L1608.3,2660.2 L1610.8,2660.1 L1613.2,2660.1 L1615.7,2660.0 L1618.2,2660.0 L1620.6,2659.9 L1623.1,2659.8 L1625.6,2659.7 L1628.0,2659.6 L1630.5,2659.5 L1633.0,2659.3 L1635.4,2659.1 L1637.9,2658.9 L1640.4,2658.6 L1642.8,2658.3 L1645.3,2658.0 L1647.8,2657.7 L1650.2,2657.3 L1652.7,2656.8 L1655.2,2656.4 L1657.7,2655.8 L1660.1,2655.3 L1662.6,2654.7 L1665.1,2654.0 L1667.5,2653.3 L1670.0,2652.6 L1672.5,2651.9 L1674.9,2651.1 L1677.4,2650.3 L1679.9,2649.5 L1682.3,2648.7 L1684.8,2647.9 L1687.3,2647.1 L1689.7,2646.2 L1692.2,2645.4 L1694.7,2644.6 L1697.2,2643.8 L1699.6,2643.0 L1702.1,2642.2 L1704.6,2641.5 L1707.0,2640.7 L1709.5,2640.0 L1712.0,2639.4 L1714.5,2638.7 L1716.9,2638.1 L1719.4,2637.6 L1721.9,2637.1 L1724.3,2636.6 L1726.8,2636.2 L1729.3,2635.8 L1731.8,2635.4 L1734.2,2635.0 L1736.7,2634.7 L1739.2,2634.5 L1741.7,2634.2 L1744.1,2634.0 L1746.6,2633.8 L1749.1,2633.6 L1751.6,2633.5 L1754.1,2633.3 L1756.5,2633.2 L1759.0,2633.1 L1761.5,2633.1 L1764.0,2633.0 L1766.5,2632.9 L1768.9,2632.9 L1771.4,2632.9 L1773.9,2632.8 L1776.4,2632.8 L1778.9,2632.8 L1781.4,2632.8 L1783.8,2632.8 L1786.3,2632.8 L1788.8,2632.8 L1791.3,2632.8 L1793.8,2632.8 L1796.3,2632.8 L1798.8,2632.8 L1801.2,2632.8 L1803.7,2632.7 L1806.2,2632.7 L1808.7,2632.6 L1811.2,2632.6 L1813.7,2632.5 L1813.7,2632.5 L1815.5,2637.0 L1817.6,2642.8 L1822.0,2640.0 L1838.2,2636.4 L1887.1,2633.0 L1896.9,2630.5 L1940.0,2629.5 L1984.9,2628.1 L2020.0,2626.0 L2047.5,2623.7 L2048.5,2623.0 L2049.5,2605.1 L2053.0,2610.0 L2058.3,2615.9 L2070.0,2618.8 L2084.0,2619.8" fill="none" stroke="#6a6aff" stroke-width="4.1" stroke-linejoin="round" stroke-linecap="round"/>
<line x1="241.4" y1="1143.3" x2="399.8" y2="1143.3" stroke="#616161" stroke-width="4.5"/>
<text x="419.5" y="1157.4" font-family="'Liberation Sans', Arial, Helvetica, sans-serif" font-weight="bold" font-size="35.5" fill="#000000" textLength="195" lengthAdjust="spacingAndGlyphs">Neat Rnew</text>
<line x1="241.4" y1="1196.8" x2="399.8" y2="1196.8" stroke="#00b058" stroke-width="4.5"/>
<text x="419.5" y="1209.5" font-family="'Liberation Sans', Arial, Helvetica, sans-serif" font-weight="bold" font-size="35.5" fill="#008a2a" textLength="253" lengthAdjust="spacingAndGlyphs">Rnew – 1% IL2</text>
<line x1="241.4" y1="1250.4" x2="399.8" y2="1250.4" stroke="#ff5c5c" stroke-width="4.5"/>
<text x="419.5" y="1260.5" font-family="'Liberation Sans', Arial, Helvetica, sans-serif" font-weight="bold" font-size="35.5" fill="#ff0000" textLength="253" lengthAdjust="spacingAndGlyphs">Rnew – 5% IL2</text>
<line x1="241.4" y1="1303.8" x2="399.8" y2="1303.8" stroke="#6262ff" stroke-width="4.5"/>
<text x="419.5" y="1312.5" font-family="'Liberation Sans', Arial, Helvetica, sans-serif" font-weight="bold" font-size="35.5" fill="#0000ff" textLength="276" lengthAdjust="spacingAndGlyphs">Rnew – 20% IL2</text>
<line x1="238.3" y1="2617.6" x2="397.4" y2="2617.6" stroke="#616161" stroke-width="4.5"/>
<text x="418.0" y="2630.7" font-family="'Liberation Sans', Arial, Helvetica, sans-serif" font-weight="bold" font-size="35.5" fill="#000000" textLength="195" lengthAdjust="spacingAndGlyphs">Neat Rnew</text>
<line x1="238.3" y1="2671.7" x2="397.4" y2="2671.7" stroke="#00b058" stroke-width="4.5"/>
<text x="418.0" y="2682.2" font-family="'Liberation Sans', Arial, Helvetica, sans-serif" font-weight="bold" font-size="35.5" fill="#008a2a" textLength="253" lengthAdjust="spacingAndGlyphs">Rnew – 1% IL2</text>
<line x1="238.3" y1="2725.3" x2="397.4" y2="2725.3" stroke="#ff5c5c" stroke-width="4.5"/>
<text x="418.0" y="2734.2" font-family="'Liberation Sans', Arial, Helvetica, sans-serif" font-weight="bold" font-size="35.5" fill="#ff0000" textLength="253" lengthAdjust="spacingAndGlyphs">Rnew – 5% IL2</text>
<line x1="238.3" y1="2779.7" x2="397.4" y2="2779.7" stroke="#6262ff" stroke-width="4.5"/>
<text x="418.0" y="2786.2" font-family="'Liberation Sans', Arial, Helvetica, sans-serif" font-weight="bold" font-size="35.5" fill="#0000ff" textLength="276" lengthAdjust="spacingAndGlyphs">Rnew – 20% IL2</text>
</svg>
</body></html>
